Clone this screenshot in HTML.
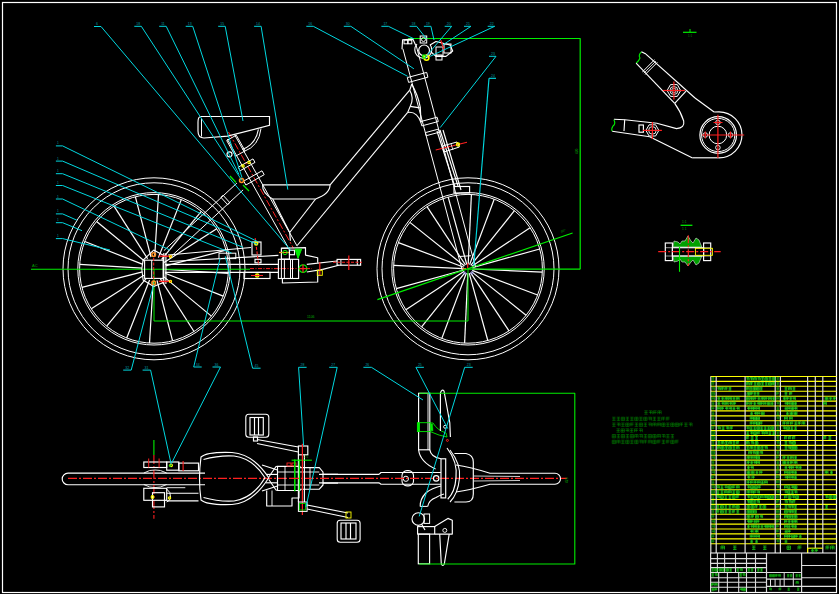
<!DOCTYPE html>
<html><head><meta charset="utf-8"><style>
html,body{margin:0;padding:0;background:#000;width:839px;height:594px;overflow:hidden}
svg{display:block;font-family:"Liberation Sans",sans-serif}
</style></head><body>
<svg width="839" height="594" viewBox="0 0 839 594">
<rect width="839" height="594" fill="#000"/>
<rect x="2.5" y="2.5" width="834.0" height="590.0" rx="0" stroke="#ffffff" stroke-width="1.2" fill="none"/>
<circle cx="154.0" cy="268.8" r="91.0" stroke="#ffffff" stroke-width="1" fill="none"/>
<circle cx="154.0" cy="268.8" r="86.0" stroke="#ffffff" stroke-width="1" fill="none"/>
<circle cx="154.0" cy="268.8" r="76.2" stroke="#ffffff" stroke-width="1" fill="none"/>
<circle cx="154.0" cy="268.8" r="74.4" stroke="#ffffff" stroke-width="1" fill="none"/>
<line x1="166.0" y1="269.5" x2="228.3" y2="273.3" stroke="#ffffff" stroke-width="1.2" />
<line x1="165.2" y1="273.2" x2="223.2" y2="296.1" stroke="#ffffff" stroke-width="1.2" />
<line x1="163.3" y1="276.4" x2="211.4" y2="316.1" stroke="#ffffff" stroke-width="1.2" />
<line x1="160.4" y1="278.9" x2="194.0" y2="331.5" stroke="#ffffff" stroke-width="1.2" />
<line x1="157.0" y1="280.4" x2="172.6" y2="340.8" stroke="#ffffff" stroke-width="1.2" />
<line x1="153.3" y1="280.8" x2="149.5" y2="343.1" stroke="#ffffff" stroke-width="1.2" />
<line x1="149.6" y1="280.0" x2="126.7" y2="338.0" stroke="#ffffff" stroke-width="1.2" />
<line x1="146.4" y1="278.1" x2="106.7" y2="326.2" stroke="#ffffff" stroke-width="1.2" />
<line x1="143.9" y1="275.2" x2="91.3" y2="308.8" stroke="#ffffff" stroke-width="1.2" />
<line x1="142.4" y1="271.8" x2="82.0" y2="287.4" stroke="#ffffff" stroke-width="1.2" />
<line x1="142.0" y1="268.1" x2="79.7" y2="264.3" stroke="#ffffff" stroke-width="1.2" />
<line x1="142.8" y1="264.4" x2="84.8" y2="241.5" stroke="#ffffff" stroke-width="1.2" />
<line x1="144.7" y1="261.2" x2="96.6" y2="221.5" stroke="#ffffff" stroke-width="1.2" />
<line x1="147.6" y1="258.7" x2="114.0" y2="206.1" stroke="#ffffff" stroke-width="1.2" />
<line x1="151.0" y1="257.2" x2="135.4" y2="196.8" stroke="#ffffff" stroke-width="1.2" />
<line x1="154.7" y1="256.8" x2="158.5" y2="194.5" stroke="#ffffff" stroke-width="1.2" />
<line x1="158.4" y1="257.6" x2="181.3" y2="199.6" stroke="#ffffff" stroke-width="1.2" />
<line x1="161.6" y1="259.5" x2="201.3" y2="211.4" stroke="#ffffff" stroke-width="1.2" />
<line x1="164.1" y1="262.4" x2="216.7" y2="228.8" stroke="#ffffff" stroke-width="1.2" />
<line x1="165.6" y1="265.8" x2="226.0" y2="250.2" stroke="#ffffff" stroke-width="1.2" />
<circle cx="468.0" cy="268.8" r="91.0" stroke="#ffffff" stroke-width="1" fill="none"/>
<circle cx="468.0" cy="268.8" r="86.0" stroke="#ffffff" stroke-width="1" fill="none"/>
<circle cx="468.0" cy="268.8" r="76.2" stroke="#ffffff" stroke-width="1" fill="none"/>
<circle cx="468.0" cy="268.8" r="74.4" stroke="#ffffff" stroke-width="1" fill="none"/>
<line x1="472.5" y1="269.0" x2="542.3" y2="272.2" stroke="#ffffff" stroke-width="1.2" />
<line x1="472.2" y1="270.4" x2="537.6" y2="295.0" stroke="#ffffff" stroke-width="1.2" />
<line x1="471.5" y1="271.6" x2="526.1" y2="315.2" stroke="#ffffff" stroke-width="1.2" />
<line x1="470.5" y1="272.6" x2="509.0" y2="330.9" stroke="#ffffff" stroke-width="1.2" />
<line x1="469.2" y1="273.1" x2="487.8" y2="340.5" stroke="#ffffff" stroke-width="1.2" />
<line x1="467.8" y1="273.3" x2="464.6" y2="343.1" stroke="#ffffff" stroke-width="1.2" />
<line x1="466.4" y1="273.0" x2="441.8" y2="338.4" stroke="#ffffff" stroke-width="1.2" />
<line x1="465.2" y1="272.3" x2="421.6" y2="326.9" stroke="#ffffff" stroke-width="1.2" />
<line x1="464.2" y1="271.3" x2="405.9" y2="309.8" stroke="#ffffff" stroke-width="1.2" />
<line x1="463.7" y1="270.0" x2="396.3" y2="288.6" stroke="#ffffff" stroke-width="1.2" />
<line x1="463.5" y1="268.6" x2="393.7" y2="265.4" stroke="#ffffff" stroke-width="1.2" />
<line x1="463.8" y1="267.2" x2="398.4" y2="242.6" stroke="#ffffff" stroke-width="1.2" />
<line x1="464.5" y1="266.0" x2="409.9" y2="222.4" stroke="#ffffff" stroke-width="1.2" />
<line x1="465.5" y1="265.0" x2="427.0" y2="206.7" stroke="#ffffff" stroke-width="1.2" />
<line x1="466.8" y1="264.5" x2="448.2" y2="197.1" stroke="#ffffff" stroke-width="1.2" />
<line x1="468.2" y1="264.3" x2="471.4" y2="194.5" stroke="#ffffff" stroke-width="1.2" />
<line x1="469.6" y1="264.6" x2="494.2" y2="199.2" stroke="#ffffff" stroke-width="1.2" />
<line x1="470.8" y1="265.3" x2="514.4" y2="210.7" stroke="#ffffff" stroke-width="1.2" />
<line x1="471.8" y1="266.3" x2="530.1" y2="227.8" stroke="#ffffff" stroke-width="1.2" />
<line x1="472.3" y1="267.6" x2="539.7" y2="249.0" stroke="#ffffff" stroke-width="1.2" />
<line x1="467.7" y1="263.0" x2="467.7" y2="268.0" stroke="#ff2020" stroke-width="1.2" />
<line x1="462.0" y1="268.8" x2="466.0" y2="268.8" stroke="#ff9020" stroke-width="1.2" />
<circle cx="464.7" cy="273.0" r="1.2" stroke="#8888ff" stroke-width="0.6" fill="none"/>
<circle cx="471.9" cy="273.0" r="1.2" stroke="#8888ff" stroke-width="0.6" fill="none"/>
<line x1="31.0" y1="269.2" x2="250.0" y2="269.2" stroke="#00ee00" stroke-width="1.1" />
<line x1="250.0" y1="268.6" x2="312.0" y2="268.6" stroke="#ff2020" stroke-width="1.0" stroke-dasharray="4,1.5,1,1.5"/>
<line x1="468.0" y1="269.2" x2="580.2" y2="269.2" stroke="#00ee00" stroke-width="1.2" />
<text x="32.0" y="266.8" fill="#00a000" font-size="4" >AC</text>
<polyline points="154.0,269.0 154.0,321.0 468.0,321.0 468.0,269.0" stroke="#00ee00" stroke-width="1" fill="none" stroke-linejoin="round"/>
<polyline points="408.0,38.5 580.2,38.5 580.2,269.2" stroke="#00ee00" stroke-width="1.2" fill="none" stroke-linejoin="round"/>
<line x1="377.4" y1="299.6" x2="572.6" y2="233.0" stroke="#00ee00" stroke-width="1.2" />
<text x="561.0" y="233.0" fill="#00a000" font-size="3.5" transform="rotate(-19 561 233)">30°</text>
<text x="578.0" y="154.0" fill="#00a000" font-size="3.2" transform="rotate(-90 578 154)">420</text>
<line x1="409.7" y1="90.2" x2="330.1" y2="184.8" stroke="#ffffff" stroke-width="1.15" />
<line x1="407.7" y1="112.4" x2="297.2" y2="245.5" stroke="#ffffff" stroke-width="1.15" />
<path d="M411.7,84.1 Q410.5,88 409.7,90.2" stroke="#ffffff" stroke-width="1.15" fill="none"/>
<path d="M409.7,90.2 Q414.5,98 410.2,106.4 L407.7,112.4" stroke="#ffffff" stroke-width="1.15" fill="none"/>
<line x1="410.2" y1="106.4" x2="419.8" y2="107.9" stroke="#ffffff" stroke-width="1.15" />
<path d="M407.7,112.4 Q417,111 421,122.5" stroke="#ffffff" stroke-width="1.15" fill="none"/>
<path d="M411.7,84.1 Q418,95 420.3,107.4 L421,122" stroke="#ffffff" stroke-width="1.15" fill="none"/>
<line x1="402.9" y1="48.8" x2="462.3" y2="270.6" stroke="#ffffff" stroke-width="1" />
<line x1="416.1" y1="45.2" x2="475.5" y2="267.0" stroke="#ffffff" stroke-width="1" />
<line x1="459.1" y1="256.5" x2="470.9" y2="255.7" stroke="#ffffff" stroke-width="1.15" />
<polygon points="407.3,77.6 408.6,82.4 427.9,77.2 426.7,72.4" stroke="#ffffff" stroke-width="1" fill="none" stroke-linejoin="round"/>
<polygon points="420.7,121.6 421.8,125.9 438.3,121.5 437.1,117.2" stroke="#ffffff" stroke-width="1" fill="none" stroke-linejoin="round"/>
<polygon points="425.4,132.6 426.2,135.7 439.4,132.2 438.5,129.1" stroke="#ffffff" stroke-width="1" fill="none" stroke-linejoin="round"/>
<line x1="437.0" y1="131.0" x2="455.0" y2="187.0" stroke="#ffffff" stroke-width="1.15" />
<line x1="440.0" y1="130.0" x2="458.0" y2="186.0" stroke="#ffffff" stroke-width="1.15" />
<line x1="443.0" y1="130.0" x2="461.0" y2="190.0" stroke="#ffffff" stroke-width="1.15" />
<rect x="454.0" y="186.5" width="15.6" height="6.5" rx="0" stroke="#ffffff" stroke-width="1.15" fill="none"/>
<line x1="435.7" y1="150.0" x2="467.0" y2="142.2" stroke="#ff2020" stroke-width="1.1" />
<polygon points="442.3,146.0 457.0,142.0 459.4,147.0 444.0,152.0" stroke="#ffffff" stroke-width="1" fill="none" stroke-linejoin="round"/>
<line x1="447.0" y1="145.0" x2="449.0" y2="151.0" stroke="#ffffff" stroke-width="0.8" />
<line x1="451.0" y1="144.0" x2="453.0" y2="150.0" stroke="#ffffff" stroke-width="0.8" />
<circle cx="458.0" cy="144.5" r="1.5" stroke="#ffff00" stroke-width="1.3" fill="none"/>
<polyline points="402.0,49.2 402.6,39.7 412.8,39.1 415.8,45.6" stroke="#ffffff" stroke-width="1.15" fill="none" stroke-linejoin="round"/>
<rect x="404.0" y="40.2" width="3.6" height="3.6" rx="0" stroke="#ffffff" stroke-width="1" fill="none"/>
<rect x="408.2" y="40.2" width="3.6" height="3.6" rx="0" stroke="#ffffff" stroke-width="1" fill="none"/>
<circle cx="424.1" cy="50.4" r="5.4" stroke="#ffffff" stroke-width="1.2" fill="none"/>
<path d="M417,44 A8.5,8.5 0 1 0 430,44.5" stroke="#ffffff" stroke-width="1.1" fill="none"/>
<rect x="420.2" y="36.0" width="6.5" height="7.0" rx="0" stroke="#ffffff" stroke-width="1" fill="none"/>
<circle cx="423.5" cy="39.5" r="2.0" stroke="#ffffff" stroke-width="0.9" fill="none"/>
<polyline points="430.0,45.0 436.0,41.5 450.0,45.0 452.7,51.0 446.0,56.4 436.0,56.4 431.0,52.0" stroke="#ffffff" stroke-width="1.15" fill="none" stroke-linejoin="round"/>
<rect x="436.0" y="47.0" width="7.0" height="9.0" rx="0" stroke="#ffffff" stroke-width="1" fill="none"/>
<rect x="444.0" y="44.0" width="7.0" height="9.0" rx="0" stroke="#ffffff" stroke-width="1" fill="none"/>
<line x1="440.8" y1="40.3" x2="444.4" y2="51.0" stroke="#ff2020" stroke-width="1.2" />
<rect x="436.0" y="55.0" width="6.0" height="5.0" rx="0" stroke="#ffffff" stroke-width="1" fill="none"/>
<circle cx="426.5" cy="57.8" r="2.4" stroke="#ffff00" stroke-width="1.6" fill="none"/>
<circle cx="424.0" cy="56.5" r="1.6" stroke="#00ee00" stroke-width="1.2" fill="none"/>
<line x1="228.5" y1="132.0" x2="293.5" y2="248.3" stroke="#ff2020" stroke-width="1.0" stroke-dasharray="7,2,2,2"/>
<line x1="227.3" y1="139.1" x2="289.8" y2="250.4" stroke="#ffffff" stroke-width="1" />
<line x1="234.7" y1="134.9" x2="297.2" y2="246.2" stroke="#ffffff" stroke-width="1" />
<polygon points="226.7,140.5 235.5,156.2 245.1,150.9 236.3,135.2" stroke="#ffffff" stroke-width="1" fill="none" stroke-linejoin="round"/>
<circle cx="229.5" cy="154.3" r="2.5" stroke="#ffffff" stroke-width="1.15" fill="none"/>
<polygon points="238.2,167.2 240.2,170.7 255.0,162.4 253.0,158.9" stroke="#ffffff" stroke-width="1" fill="none" stroke-linejoin="round"/>
<polygon points="243.7,181.1 245.9,185.0 264.2,174.7 262.0,170.8" stroke="#ffffff" stroke-width="1" fill="none" stroke-linejoin="round"/>
<circle cx="241.6" cy="180.5" r="2.0" stroke="#ff9020" stroke-width="1.6" fill="none"/>
<circle cx="243.0" cy="166.0" r="1.2" stroke="#ffff00" stroke-width="1.2" fill="none"/>
<circle cx="249.0" cy="162.5" r="1.2" stroke="#ffff00" stroke-width="1.2" fill="none"/>
<line x1="230.0" y1="176.0" x2="236.0" y2="182.5" stroke="#00ee00" stroke-width="1.3" />
<line x1="243.0" y1="185.0" x2="249.0" y2="191.0" stroke="#00ee00" stroke-width="1.3" />
<path d="M201,116.5 L269.5,116.5 L269.5,125.4 L227.5,136.1 L204,138 Q198,138 198,131 L198,122 Q198,116.5 201,116.5" stroke="#ffffff" stroke-width="1.15" fill="none"/>
<line x1="201.5" y1="118.5" x2="201.5" y2="136.5" stroke="#ffffff" stroke-width="1" />
<path d="M258.4,129.4 Q256,144 242.3,149.5" stroke="#ffffff" stroke-width="1.1" fill="none"/>
<path d="M261,128.5 Q259,146 244,151.5" stroke="#ffffff" stroke-width="1.0" fill="none"/>
<line x1="236.9" y1="183.1" x2="163.9" y2="250.6" stroke="#ffffff" stroke-width="1" />
<line x1="243.1" y1="189.9" x2="170.1" y2="257.4" stroke="#ffffff" stroke-width="1" />
<polygon points="223.1,195.3 220.9,197.3 227.7,204.7 229.9,202.7" stroke="#ffffff" stroke-width="1" fill="none" stroke-linejoin="round"/>
<line x1="168.0" y1="255.0" x2="251.0" y2="247.5" stroke="#ffffff" stroke-width="1.15" />
<line x1="169.3" y1="261.5" x2="278.4" y2="255.4" stroke="#ffffff" stroke-width="1.15" />
<rect x="219.0" y="253.2" width="16.8" height="5.4" rx="0" stroke="#ffffff" stroke-width="1" fill="none"/>
<line x1="165.0" y1="264.3" x2="278.4" y2="264.3" stroke="#ffffff" stroke-width="1.15" />
<line x1="165.0" y1="272.4" x2="278.4" y2="272.4" stroke="#ffffff" stroke-width="1.15" />
<rect x="252.0" y="242.0" width="9.0" height="13.0" rx="0" stroke="#ffffff" stroke-width="1.15" fill="none"/>
<rect x="255.0" y="259.3" width="6.0" height="3.5" rx="0" stroke="#ffffff" stroke-width="1.15" fill="none"/>
<line x1="255.2" y1="238.0" x2="258.7" y2="265.4" stroke="#ff2020" stroke-width="1.1" stroke-dasharray="3,1.5"/>
<circle cx="256.2" cy="243.5" r="1.5" stroke="#ffff00" stroke-width="1.5" fill="none"/>
<rect x="244.0" y="272.4" width="26.0" height="6.1" rx="0" stroke="#ffffff" stroke-width="1.15" fill="none"/>
<circle cx="257.2" cy="275.5" r="1.6" stroke="#ffff00" stroke-width="1.5" fill="none"/>
<line x1="251.0" y1="275.5" x2="263.0" y2="275.5" stroke="#ff2020" stroke-width="1" />
<line x1="262.6" y1="184.8" x2="330.1" y2="184.8" stroke="#ffffff" stroke-width="1.15" />
<path d="M262.6,184.85 Q262,193 272.7,199" stroke="#ffffff" stroke-width="1.15" fill="none"/>
<path d="M330.1,184.85 Q330,194 315.6,199" stroke="#ffffff" stroke-width="1.15" fill="none"/>
<line x1="272.7" y1="199.0" x2="315.6" y2="199.0" stroke="#ffffff" stroke-width="1.15" />
<line x1="272.7" y1="199.0" x2="289.7" y2="232.5" stroke="#ffffff" stroke-width="1.15" />
<line x1="315.6" y1="199.0" x2="289.7" y2="232.5" stroke="#ffffff" stroke-width="1.15" />
<line x1="289.7" y1="232.5" x2="290.4" y2="240.7" stroke="#ffffff" stroke-width="1.15" />
<polyline points="281.4,248.2 305.5,247.6 305.5,255.1 317.7,257.7 317.7,262.7" stroke="#ffffff" stroke-width="1.15" fill="none" stroke-linejoin="round"/>
<rect x="278.4" y="259.3" width="20.2" height="19.2" rx="0" stroke="#ffffff" stroke-width="1.15" fill="none"/>
<line x1="281.4" y1="259.3" x2="281.4" y2="278.5" stroke="#ffffff" stroke-width="1" />
<line x1="284.4" y1="259.3" x2="284.4" y2="278.5" stroke="#ffffff" stroke-width="1" />
<line x1="290.5" y1="259.3" x2="290.5" y2="278.5" stroke="#ffffff" stroke-width="1" />
<line x1="292.5" y1="259.3" x2="292.5" y2="278.5" stroke="#ffffff" stroke-width="1" />
<polyline points="282.4,278.5 282.4,283.0 317.7,282.0 317.7,270.3" stroke="#ffffff" stroke-width="1.15" fill="none" stroke-linejoin="round"/>
<rect x="281.4" y="248.2" width="8.0" height="11.0" rx="0" stroke="#ffffff" stroke-width="1.15" fill="none"/>
<rect x="289.5" y="250.2" width="5.0" height="4.5" rx="0" stroke="#ffffff" stroke-width="1.15" fill="none"/>
<path d="M295,249.2 L301.6,249.2 L298,258.3 Z" stroke="#00ee00" stroke-width="1" fill="#00ee00"/>
<line x1="279.0" y1="252.5" x2="289.0" y2="252.5" stroke="#ff9020" stroke-width="1.2" />
<circle cx="285.0" cy="252.5" r="2.2" stroke="#00ee00" stroke-width="1" fill="none"/>
<circle cx="303.0" cy="268.6" r="3.8" stroke="#00ee00" stroke-width="1.3" fill="none"/>
<line x1="299.0" y1="268.6" x2="307.0" y2="268.6" stroke="#ff2020" stroke-width="1.2" />
<line x1="303.0" y1="264.6" x2="303.0" y2="272.6" stroke="#ff2020" stroke-width="1.2" />
<line x1="306.8" y1="264.4" x2="337.1" y2="261.0" stroke="#ffffff" stroke-width="1.15" />
<line x1="306.8" y1="272.0" x2="322.8" y2="269.4" stroke="#ffffff" stroke-width="1.15" />
<line x1="322.8" y1="269.4" x2="338.7" y2="265.2" stroke="#ffffff" stroke-width="1.15" />
<rect x="337.1" y="259.4" width="23.5" height="5.8" rx="0" stroke="#ffffff" stroke-width="1.15" fill="none"/>
<line x1="340.9" y1="259.4" x2="340.9" y2="265.2" stroke="#ffffff" stroke-width="1" />
<line x1="357.3" y1="259.4" x2="357.3" y2="265.2" stroke="#ffffff" stroke-width="1" />
<line x1="333.0" y1="262.3" x2="362.0" y2="262.3" stroke="#ff2020" stroke-width="1.1" stroke-dasharray="3,1.5"/>
<line x1="348.8" y1="255.6" x2="348.8" y2="269.9" stroke="#ff2020" stroke-width="1.2" />
<line x1="319.8" y1="262.3" x2="319.8" y2="275.3" stroke="#ff2020" stroke-width="1.2" />
<rect x="317.3" y="270.3" width="5.0" height="5.0" rx="0" stroke="#ffff00" stroke-width="0.9" fill="none"/>
<polygon points="153.7,250.1 163.3,255.2 163.3,282.4 153.7,286.5 143.1,280.0 141.8,269.0 143.1,260.2" stroke="#ffffff" stroke-width="1.1" fill="none" stroke-linejoin="round"/>
<rect x="144.6" y="260.2" width="18.7" height="18.2" rx="0" stroke="#ffffff" stroke-width="1.1" fill="none"/>
<line x1="151.7" y1="260.2" x2="151.7" y2="278.4" stroke="#ffffff" stroke-width="1" />
<line x1="163.8" y1="253.0" x2="163.8" y2="284.0" stroke="#ffffff" stroke-width="1.15" />
<line x1="165.9" y1="253.0" x2="165.9" y2="284.0" stroke="#ffffff" stroke-width="1.15" />
<line x1="158.8" y1="256.2" x2="171.9" y2="256.2" stroke="#ff2020" stroke-width="1.4" />
<line x1="158.8" y1="281.4" x2="171.9" y2="281.4" stroke="#ff2020" stroke-width="1.4" />
<circle cx="170.5" cy="256.6" r="1.1" stroke="#ffff00" stroke-width="1.1" fill="none"/>
<circle cx="170.5" cy="281.4" r="1.1" stroke="#ffff00" stroke-width="1.1" fill="none"/>
<circle cx="153.7" cy="254.6" r="1.8" stroke="#ff9020" stroke-width="1.5" fill="none"/>
<circle cx="153.7" cy="282.9" r="1.8" stroke="#ff9020" stroke-width="1.5" fill="none"/>
<line x1="153.7" y1="258.0" x2="153.7" y2="280.0" stroke="#ff2020" stroke-width="1.0" stroke-dasharray="3,1.5"/>
<line x1="94.0" y1="26.5" x2="101.0" y2="26.5" stroke="#00d8e0" stroke-width="1" />
<line x1="101.0" y1="26.5" x2="291.0" y2="250.7" stroke="#00d8e0" stroke-width="1" />
<text x="96.0" y="25.0" fill="#009aa0" font-size="3.5" >6</text>
<line x1="134.3" y1="26.3" x2="141.3" y2="26.3" stroke="#00d8e0" stroke-width="1" />
<line x1="141.3" y1="26.3" x2="242.0" y2="180.6" stroke="#00d8e0" stroke-width="1" />
<text x="136.3" y="24.8" fill="#009aa0" font-size="3.5" >18</text>
<line x1="159.2" y1="26.3" x2="166.2" y2="26.3" stroke="#00d8e0" stroke-width="1" />
<line x1="166.2" y1="26.3" x2="239.0" y2="174.5" stroke="#00d8e0" stroke-width="1" />
<text x="161.2" y="24.8" fill="#009aa0" font-size="3.5" >11</text>
<line x1="185.7" y1="26.3" x2="192.7" y2="26.3" stroke="#00d8e0" stroke-width="1" />
<line x1="192.7" y1="26.3" x2="242.0" y2="177.6" stroke="#00d8e0" stroke-width="1" />
<text x="187.7" y="24.8" fill="#009aa0" font-size="3.5" >13</text>
<line x1="218.2" y1="26.3" x2="225.2" y2="26.3" stroke="#00d8e0" stroke-width="1" />
<line x1="225.2" y1="26.3" x2="243.0" y2="121.0" stroke="#00d8e0" stroke-width="1" />
<text x="220.2" y="24.8" fill="#009aa0" font-size="3.5" >15</text>
<line x1="254.1" y1="26.3" x2="261.1" y2="26.3" stroke="#00d8e0" stroke-width="1" />
<line x1="261.1" y1="26.3" x2="287.8" y2="189.6" stroke="#00d8e0" stroke-width="1" />
<text x="256.1" y="24.8" fill="#009aa0" font-size="3.5" >14</text>
<line x1="306.3" y1="26.3" x2="313.3" y2="26.3" stroke="#00d8e0" stroke-width="1" />
<line x1="313.3" y1="26.3" x2="407.6" y2="76.3" stroke="#00d8e0" stroke-width="1" />
<text x="308.3" y="24.8" fill="#009aa0" font-size="3.5" >16</text>
<line x1="343.8" y1="26.3" x2="350.8" y2="26.3" stroke="#00d8e0" stroke-width="1" />
<line x1="350.8" y1="26.3" x2="413.9" y2="68.8" stroke="#00d8e0" stroke-width="1" />
<text x="345.8" y="24.8" fill="#009aa0" font-size="3.5" >30</text>
<line x1="381.4" y1="26.3" x2="388.4" y2="26.3" stroke="#00d8e0" stroke-width="1" />
<line x1="388.4" y1="26.3" x2="413.9" y2="38.8" stroke="#00d8e0" stroke-width="1" />
<text x="383.4" y="24.8" fill="#009aa0" font-size="3.5" >17</text>
<line x1="409.6" y1="26.3" x2="416.6" y2="26.3" stroke="#00d8e0" stroke-width="1" />
<line x1="416.6" y1="26.3" x2="426.4" y2="38.8" stroke="#00d8e0" stroke-width="1" />
<text x="411.6" y="24.8" fill="#009aa0" font-size="3.5" >18</text>
<line x1="423.9" y1="26.3" x2="430.9" y2="26.3" stroke="#00d8e0" stroke-width="1" />
<line x1="430.9" y1="26.3" x2="434.0" y2="40.0" stroke="#00d8e0" stroke-width="1" />
<text x="425.9" y="24.8" fill="#009aa0" font-size="3.5" >19</text>
<line x1="444.7" y1="26.3" x2="451.7" y2="26.3" stroke="#00d8e0" stroke-width="1" />
<line x1="451.7" y1="26.3" x2="425.2" y2="57.5" stroke="#00d8e0" stroke-width="1" />
<text x="446.7" y="24.8" fill="#009aa0" font-size="3.5" >20</text>
<line x1="464.0" y1="26.3" x2="471.0" y2="26.3" stroke="#00d8e0" stroke-width="1" />
<line x1="471.0" y1="26.3" x2="442.7" y2="45.0" stroke="#00d8e0" stroke-width="1" />
<text x="466.0" y="24.8" fill="#009aa0" font-size="3.5" >21</text>
<line x1="487.7" y1="26.3" x2="494.7" y2="26.3" stroke="#00d8e0" stroke-width="1" />
<line x1="494.7" y1="26.3" x2="430.2" y2="56.3" stroke="#00d8e0" stroke-width="1" />
<text x="489.7" y="24.8" fill="#009aa0" font-size="3.5" >22</text>
<line x1="489.0" y1="56.3" x2="496.0" y2="56.3" stroke="#00d8e0" stroke-width="1" />
<line x1="496.0" y1="56.3" x2="440.2" y2="127.6" stroke="#00d8e0" stroke-width="1" />
<text x="491.0" y="54.8" fill="#009aa0" font-size="3.5" >23</text>
<line x1="489.0" y1="78.3" x2="496.0" y2="78.3" stroke="#00d8e0" stroke-width="1.15" />
<line x1="489.0" y1="78.3" x2="473.8" y2="265.5" stroke="#00d8e0" stroke-width="1.15" />
<text x="491.0" y="76.8" fill="#009aa0" font-size="3.5" >24</text>
<line x1="683.0" y1="32.3" x2="696.5" y2="32.3" stroke="#00ee00" stroke-width="1.2" />
<line x1="690.0" y1="29.0" x2="690.0" y2="32.0" stroke="#00ee00" stroke-width="1" />
<text x="688.0" y="37.0" fill="#008800" font-size="3" >1:1</text>
<path d="M641.4,51.8 Q638,55 640,58 Q639,61 636.1,63.2" stroke="#00ee00" stroke-width="1.1" fill="none"/>
<line x1="641.4" y1="51.8" x2="645.9" y2="54.1" stroke="#ffffff" stroke-width="1.15" />
<line x1="645.9" y1="54.1" x2="695.0" y2="98.0" stroke="#ffffff" stroke-width="1.15" />
<line x1="636.1" y1="63.2" x2="674.7" y2="103.3" stroke="#ffffff" stroke-width="1.15" />
<line x1="657.3" y1="62.4" x2="645.2" y2="74.5" stroke="#ffffff" stroke-width="1" />
<line x1="655.9" y1="61.1" x2="643.8" y2="73.2" stroke="#ffffff" stroke-width="0.8" />
<line x1="654.5" y1="59.8" x2="642.4" y2="71.9" stroke="#ffffff" stroke-width="1" />
<polygon points="680.7,90.5 677.3,96.4 670.5,96.4 667.1,90.5 670.5,84.6 677.3,84.6" stroke="#ffffff" stroke-width="1" fill="none" stroke-linejoin="round"/>
<circle cx="673.9" cy="90.5" r="4.0" stroke="#ffffff" stroke-width="0.9" fill="none"/>
<circle cx="673.9" cy="90.5" r="2.3" stroke="#ffffff" stroke-width="0.8" fill="none"/>
<line x1="662.9" y1="90.5" x2="684.9" y2="90.5" stroke="#ff2020" stroke-width="1.2" />
<line x1="673.9" y1="81.5" x2="673.9" y2="99.5" stroke="#ff2020" stroke-width="1.2" />
<line x1="674.7" y1="103.3" x2="686.0" y2="91.2" stroke="#ffffff" stroke-width="1.15" />
<path d="M674.7,103.3 Q681,112 683.7,121 Q685,128 676.5,128.6 L656.9,123.2 L624.7,119.7 L613.9,119.3" stroke="#ffffff" stroke-width="1.15" fill="none"/>
<path d="M613.9,119.7 Q616,124 613,126 Q611,129 612.2,131.3" stroke="#00ee00" stroke-width="1.1" fill="none"/>
<line x1="612.2" y1="131.3" x2="649.7" y2="136.7" stroke="#ffffff" stroke-width="1.15" />
<line x1="649.7" y1="136.7" x2="692.6" y2="158.1" stroke="#ffffff" stroke-width="1.15" />
<line x1="692.6" y1="157.8" x2="719.0" y2="157.8" stroke="#ffffff" stroke-width="1.15" />
<path d="M714.1,112 L719,111.8 A23,23 0 0 1 719,157.8" stroke="#ffffff" stroke-width="1.15" fill="none"/>
<line x1="714.1" y1="112.0" x2="695.0" y2="98.0" stroke="#ffffff" stroke-width="1.15" />
<line x1="624.7" y1="119.7" x2="624.0" y2="131.0" stroke="#ffffff" stroke-width="1.15" />
<rect x="639.0" y="125.0" width="4.4" height="7.2" rx="0" stroke="#ffffff" stroke-width="1.15" fill="none"/>
<polygon points="658.9,130.4 655.6,136.0 649.1,136.0 645.9,130.4 649.1,124.8 655.6,124.8" stroke="#ffffff" stroke-width="1" fill="none" stroke-linejoin="round"/>
<circle cx="652.4" cy="130.4" r="3.8" stroke="#ffffff" stroke-width="0.9" fill="none"/>
<line x1="642.9" y1="130.4" x2="661.9" y2="130.4" stroke="#ff2020" stroke-width="1.2" />
<line x1="652.4" y1="121.9" x2="652.4" y2="138.9" stroke="#ff2020" stroke-width="1.2" />
<circle cx="718.2" cy="135.0" r="18.3" stroke="#ffffff" stroke-width="1.2" fill="none"/>
<circle cx="718.2" cy="135.0" r="16.6" stroke="#ffffff" stroke-width="1.0" fill="none"/>
<circle cx="717.9" cy="135.0" r="8.8" stroke="#ffffff" stroke-width="1" fill="none"/>
<circle cx="717.9" cy="122.5" r="2.3" stroke="#ffffff" stroke-width="0.9" fill="none"/>
<circle cx="705.3" cy="135.0" r="2.3" stroke="#ffffff" stroke-width="0.9" fill="none"/>
<circle cx="730.5" cy="135.0" r="2.3" stroke="#ffffff" stroke-width="0.9" fill="none"/>
<circle cx="717.9" cy="147.6" r="2.3" stroke="#ffffff" stroke-width="0.9" fill="none"/>
<line x1="713.5" y1="122.5" x2="722.5" y2="122.5" stroke="#ff2020" stroke-width="1.1" />
<line x1="705.3" y1="131.5" x2="705.3" y2="138.5" stroke="#ff2020" stroke-width="1.1" />
<line x1="730.5" y1="131.5" x2="730.5" y2="138.5" stroke="#ff2020" stroke-width="1.1" />
<line x1="702.0" y1="135.0" x2="744.2" y2="135.0" stroke="#ff2020" stroke-width="1.2" />
<line x1="717.9" y1="114.8" x2="717.9" y2="158.0" stroke="#ff2020" stroke-width="1.2" />
<line x1="680.6" y1="225.3" x2="692.4" y2="225.3" stroke="#00ee00" stroke-width="1.3" />
<text x="682.0" y="223.0" fill="#00aa00" font-size="3.2" >1:1</text>
<text x="682.0" y="230.0" fill="#00aa00" font-size="3.2" >1 1</text>
<path d="M673,247 L674,241 L678,242 L680,244 L682,241 L685,241 L688,236 L691,241 L693,243 L696,238 L699,240 L701.8,247 Z" stroke="#dddddd" stroke-width="0.6" fill="#00a000"/>
<path d="M673,256 L674,262 L678,261 L680,259 L682,262 L685,262 L688,266 L691,262 L693,260 L696,265 L699,263 L701.8,256 Z" stroke="#dddddd" stroke-width="0.6" fill="#00a000"/>
<rect x="665.3" y="243.0" width="7.1" height="17.6" rx="0" stroke="#ffffff" stroke-width="1.15" fill="none"/>
<rect x="703.6" y="243.0" width="7.1" height="17.6" rx="0" stroke="#ffffff" stroke-width="1.15" fill="none"/>
<line x1="665.3" y1="247.7" x2="672.4" y2="247.7" stroke="#ffffff" stroke-width="0.6" />
<line x1="665.3" y1="256.0" x2="672.4" y2="256.0" stroke="#ffffff" stroke-width="0.6" />
<line x1="703.6" y1="247.7" x2="710.7" y2="247.7" stroke="#ffffff" stroke-width="0.6" />
<line x1="703.6" y1="256.0" x2="710.7" y2="256.0" stroke="#ffffff" stroke-width="0.6" />
<rect x="672.4" y="247.7" width="31.2" height="8.3" rx="0" stroke="#ffffff" stroke-width="1.15" fill="none"/>
<rect x="695.4" y="248.3" width="17.0" height="7.0" rx="0" stroke="#ffff00" stroke-width="0.9" fill="none"/>
<line x1="658.2" y1="251.6" x2="720.7" y2="251.6" stroke="#ff2020" stroke-width="1.1" stroke-dasharray="8,2,2,2"/>
<line x1="688.3" y1="235.3" x2="688.3" y2="266.0" stroke="#ff2020" stroke-width="1.1" stroke-dasharray="8,2,2,2"/>
<line x1="679.5" y1="247.0" x2="679.5" y2="271.8" stroke="#00ee00" stroke-width="1.1" />
<path d="M205,473.1 L68,473.1 A5.8,5.8 0 0 0 68,484.7 L205,484.7" stroke="#ffffff" stroke-width="1.15" fill="none"/>
<line x1="68.0" y1="478.4" x2="290.0" y2="478.4" stroke="#ff2020" stroke-width="1.2" stroke-dasharray="9,2,2,2"/>
<line x1="153.9" y1="440.0" x2="153.9" y2="455.0" stroke="#00ee00" stroke-width="1.1" />
<line x1="153.9" y1="455.0" x2="153.9" y2="518.7" stroke="#ff2020" stroke-width="1.1" stroke-dasharray="9,2,2,2"/>
<rect x="143.8" y="462.0" width="22.9" height="5.5" rx="0" stroke="#ffffff" stroke-width="1.15" fill="none"/>
<line x1="148.7" y1="458.5" x2="148.7" y2="467.5" stroke="#ff2020" stroke-width="1" />
<line x1="159.1" y1="458.5" x2="159.1" y2="467.5" stroke="#ff2020" stroke-width="1" />
<rect x="166.7" y="462.0" width="12.1" height="8.2" rx="0" stroke="#ffffff" stroke-width="1.15" fill="none"/>
<circle cx="171.1" cy="465.3" r="1.3" stroke="#ffff00" stroke-width="1.2" fill="none"/>
<circle cx="170.0" cy="465.8" r="0.9" stroke="#00ee00" stroke-width="0.8" fill="none"/>
<rect x="178.8" y="463.1" width="19.7" height="7.7" rx="0" stroke="#ffffff" stroke-width="1.15" fill="none"/>
<line x1="183.1" y1="461.0" x2="183.1" y2="471.0" stroke="#ff2020" stroke-width="1.1" />
<path d="M143.8,473 Q150,469.5 155,470 Q160,469.5 166.7,473" stroke="#ffffff" stroke-width="0.9" fill="none"/>
<path d="M143.8,484.5 Q150,488 155,487.6 Q160,488 166.7,484.5" stroke="#ffffff" stroke-width="0.9" fill="none"/>
<rect x="143.8" y="488.3" width="22.9" height="12.0" rx="0" stroke="#ffffff" stroke-width="1.15" fill="none"/>
<rect x="152.5" y="492.7" width="12.0" height="14.2" rx="0" stroke="#ffffff" stroke-width="1.15" fill="none"/>
<path d="M166.7,489 Q171,492 170.5,497 Q170,501 166.7,502" stroke="#ffffff" stroke-width="1" fill="none"/>
<line x1="166.7" y1="487.7" x2="185.3" y2="487.7" stroke="#ffffff" stroke-width="0.9" />
<line x1="166.7" y1="493.2" x2="198.5" y2="493.2" stroke="#ffffff" stroke-width="1.15" />
<line x1="166.7" y1="500.9" x2="198.5" y2="500.9" stroke="#ffffff" stroke-width="1.15" />
<circle cx="152.5" cy="497.0" r="1.3" stroke="#ffff00" stroke-width="1.2" fill="none"/>
<circle cx="169.5" cy="498.1" r="1.2" stroke="#ffff00" stroke-width="1.1" fill="none"/>
<path d="M201,457 C205,453.5 218,452 232,452.5 C249,453.5 261,466 268.8,477.7 C261,490 249,503.5 232,504.5 C218,505 205,503.5 201,500 Q198,478.5 201,457 Z" stroke="#ffffff" stroke-width="1.15" fill="none"/>
<path d="M203.5,459.5 C214,456.5 226,455.5 234,456 C250,458 259,468 265,477.7 C259,488 250,498.5 234,501 C226,501.5 214,500.5 203.5,497.5" stroke="#ffffff" stroke-width="1.1" fill="none"/>
<polyline points="268.8,477.0 276.0,466.5 277.5,466.3" stroke="#ffffff" stroke-width="1.15" fill="none" stroke-linejoin="round"/>
<polyline points="268.8,479.5 276.0,490.0 277.5,490.5" stroke="#ffffff" stroke-width="1.15" fill="none" stroke-linejoin="round"/>
<line x1="262.0" y1="465.0" x2="277.5" y2="470.0" stroke="#ffffff" stroke-width="1.15" />
<line x1="262.0" y1="491.0" x2="277.5" y2="486.0" stroke="#ffffff" stroke-width="1.15" />
<line x1="266.0" y1="474.4" x2="277.5" y2="474.4" stroke="#ffffff" stroke-width="1.15" />
<line x1="266.0" y1="482.8" x2="277.5" y2="482.8" stroke="#ffffff" stroke-width="1.15" />
<rect x="245.8" y="414.2" width="23.0" height="23.0" rx="3" stroke="#ffffff" stroke-width="1.1" fill="none"/>
<rect x="250.0" y="417.5" width="13.3" height="17.5" rx="0" stroke="#ffffff" stroke-width="1.15" fill="none"/>
<line x1="254.5" y1="417.5" x2="254.5" y2="435.0" stroke="#ffffff" stroke-width="1.15" />
<line x1="258.5" y1="417.5" x2="258.5" y2="435.0" stroke="#ffffff" stroke-width="1.15" />
<rect x="253.5" y="437.0" width="4.0" height="4.0" rx="0" stroke="#ffffff" stroke-width="1.15" fill="none"/>
<line x1="257.0" y1="439.5" x2="298.4" y2="447.0" stroke="#ffffff" stroke-width="1.15" />
<line x1="257.0" y1="443.5" x2="298.4" y2="452.0" stroke="#ffffff" stroke-width="1.15" />
<rect x="298.4" y="446.0" width="9.4" height="8.8" rx="0" stroke="#ffffff" stroke-width="1.15" fill="none"/>
<polygon points="277.5,466.3 300.0,466.3 300.0,467.6 319.3,467.6 323.0,472.0 323.0,485.0 319.3,489.2 300.0,489.2 300.0,490.5 277.5,490.5" stroke="#ffffff" stroke-width="1.15" fill="none" stroke-linejoin="round"/>
<line x1="277.5" y1="472.0" x2="319.3" y2="472.0" stroke="#ffffff" stroke-width="0.9" />
<line x1="277.5" y1="485.0" x2="319.3" y2="485.0" stroke="#ffffff" stroke-width="0.9" />
<line x1="285.0" y1="466.3" x2="285.0" y2="490.5" stroke="#ffffff" stroke-width="0.9" />
<line x1="310.0" y1="467.6" x2="310.0" y2="489.2" stroke="#ffffff" stroke-width="0.9" />
<rect x="287.0" y="463.0" width="4.0" height="3.0" rx="0" stroke="#ff2020" stroke-width="0.9" fill="none"/>
<rect x="292.0" y="463.0" width="4.0" height="3.0" rx="0" stroke="#ff2020" stroke-width="0.9" fill="none"/>
<line x1="298.4" y1="454.8" x2="298.4" y2="502.0" stroke="#ffffff" stroke-width="1.15" />
<line x1="304.4" y1="454.8" x2="304.4" y2="502.0" stroke="#ffffff" stroke-width="1.15" />
<line x1="294.8" y1="459.5" x2="294.8" y2="491.2" stroke="#00ee00" stroke-width="1.5" />
<line x1="299.4" y1="459.5" x2="299.4" y2="491.2" stroke="#00ee00" stroke-width="1.3" />
<line x1="291.6" y1="460.2" x2="311.9" y2="460.2" stroke="#00ee00" stroke-width="1.1" />
<text x="304.0" y="458.0" fill="#00aa00" font-size="3" >1:1</text>
<line x1="302.4" y1="443.8" x2="302.4" y2="514.9" stroke="#ff2020" stroke-width="1.2" />
<rect x="298.4" y="502.0" width="8.7" height="9.4" rx="0" stroke="#ffffff" stroke-width="1" fill="none"/>
<rect x="299.5" y="503.5" width="6.0" height="6.5" rx="0" stroke="#00ee00" stroke-width="0.8" fill="none"/>
<polyline points="299.0,490.5 299.0,498.0 292.0,498.0 292.0,506.0 266.7,506.0 266.7,490.5" stroke="#ffffff" stroke-width="1.15" fill="none" stroke-linejoin="round"/>
<line x1="272.0" y1="490.5" x2="272.0" y2="506.0" stroke="#ffffff" stroke-width="0.9" />
<line x1="323.0" y1="474.3" x2="338.0" y2="474.3" stroke="#ffffff" stroke-width="1.15" />
<line x1="323.0" y1="483.1" x2="338.0" y2="483.1" stroke="#ffffff" stroke-width="1.15" />
<line x1="307.0" y1="505.0" x2="348.0" y2="513.0" stroke="#ffffff" stroke-width="1.15" />
<line x1="307.0" y1="509.0" x2="348.0" y2="517.5" stroke="#ffffff" stroke-width="1.15" />
<rect x="346.0" y="512.0" width="5.0" height="6.0" rx="0" stroke="#ffff00" stroke-width="0.9" fill="none"/>
<rect x="337.2" y="520.2" width="22.9" height="22.1" rx="3" stroke="#ffffff" stroke-width="1.1" fill="none"/>
<rect x="341.0" y="523.0" width="15.0" height="16.0" rx="0" stroke="#ffffff" stroke-width="1.15" fill="none"/>
<line x1="346.0" y1="523.0" x2="346.0" y2="539.0" stroke="#ffffff" stroke-width="1.15" />
<line x1="350.5" y1="523.0" x2="350.5" y2="539.0" stroke="#ffffff" stroke-width="1.15" />
<line x1="319.0" y1="474.4" x2="379.0" y2="474.4" stroke="#ffffff" stroke-width="1.15" />
<line x1="319.0" y1="482.8" x2="379.0" y2="482.8" stroke="#ffffff" stroke-width="1.15" />
<polyline points="379.0,474.4 381.0,472.5 441.0,472.5" stroke="#ffffff" stroke-width="1.15" fill="none" stroke-linejoin="round"/>
<polyline points="379.0,482.8 381.0,484.2 441.0,484.2" stroke="#ffffff" stroke-width="1.15" fill="none" stroke-linejoin="round"/>
<rect x="402.0" y="470.6" width="11.5" height="15.3" rx="5" stroke="#ffffff" stroke-width="1.1" fill="none"/>
<circle cx="405.9" cy="478.8" r="2.6" stroke="#ffffff" stroke-width="1" fill="none"/>
<line x1="290.0" y1="478.4" x2="566.8" y2="478.4" stroke="#ff2020" stroke-width="1.2" stroke-dasharray="9,2,2,2"/>
<path d="M456,465 Q470,467 490,473.2 L555,473.2 A5.5,5.5 0 0 1 555,484.2 L490,484.2 Q470,490 456,492" stroke="#ffffff" stroke-width="1.15" fill="none"/>
<line x1="474.0" y1="476.0" x2="520.0" y2="476.5" stroke="#ffffff" stroke-width="0.8" />
<line x1="474.0" y1="481.0" x2="520.0" y2="480.5" stroke="#ffffff" stroke-width="0.8" />
<rect x="418.6" y="393.3" width="11.2" height="56.5" rx="0" stroke="#ffffff" stroke-width="1.15" fill="none"/>
<line x1="428.0" y1="393.3" x2="428.0" y2="449.8" stroke="#ffffff" stroke-width="0.9" />
<path d="M418.6,449.8 Q420,462 435.6,469" stroke="#ffffff" stroke-width="1.15" fill="none"/>
<path d="M429.8,449.8 Q431,457 441,458.8" stroke="#ffffff" stroke-width="1.15" fill="none"/>
<rect x="417.4" y="422.7" width="12.9" height="8.9" rx="0" stroke="#00ee00" stroke-width="0.9" fill="none"/>
<rect x="417.6" y="423.0" width="2.2" height="8.5" rx="0" stroke="#00ee00" stroke-width="0.4" fill="#00ee00"/>
<path d="M430.3,423 L433,423 Q437,430 446,433 L447,437 Q440,436 430.3,431.6" stroke="#00ee00" stroke-width="0.9" fill="none"/>
<path d="M431,424 L432.5,424 L433,431 L431,430.5 Z" stroke="#00ee00" stroke-width="0.4" fill="#00ee00"/>
<path d="M440.4,431 L440.4,393 Q442,388.5 444,391 L449.8,422.7 L450.4,437" stroke="#ffffff" stroke-width="1.15" fill="none"/>
<circle cx="445.1" cy="426.8" r="1.5" stroke="#ffffff" stroke-width="0.9" fill="none"/>
<circle cx="447.4" cy="440.4" r="1.0" stroke="#ff2020" stroke-width="1" fill="none"/>
<rect x="441.0" y="458.8" width="4.7" height="39.1" rx="0" stroke="#ffffff" stroke-width="1.15" fill="none"/>
<path d="M447,448 Q458,462 456,478 Q455,492 447.7,499.2" stroke="#ffffff" stroke-width="1.2" fill="none"/>
<path d="M450,450 Q461,464 459.5,478 Q458,494 450,502" stroke="#ffffff" stroke-width="1.1" fill="none"/>
<path d="M454.4,453.5 L466,453.5 Q473.3,455 473.3,462 L473.3,494 Q473.3,502 466,502 L454.4,502" stroke="#ffffff" stroke-width="1.15" fill="none"/>
<circle cx="436.2" cy="478.4" r="2.7" stroke="#ffffff" stroke-width="1.15" fill="none"/>
<path d="M420.2,506.4 Q420,499 425.8,493 Q432,488 441,486" stroke="#ffffff" stroke-width="1.15" fill="none"/>
<path d="M427.7,506.4 Q429,500 436,497.5 Q440,495 444,494" stroke="#ffffff" stroke-width="1.15" fill="none"/>
<line x1="420.2" y1="506.4" x2="427.7" y2="506.4" stroke="#ffffff" stroke-width="1" />
<rect x="418.3" y="534.1" width="11.3" height="29.7" rx="0" stroke="#ffffff" stroke-width="1.15" fill="none"/>
<rect x="417.6" y="526.6" width="17.1" height="7.5" rx="0" stroke="#ffffff" stroke-width="1.15" fill="none"/>
<circle cx="418.3" cy="519.0" r="6.3" stroke="#ffffff" stroke-width="1.15" fill="none"/>
<rect x="424.0" y="514.0" width="5.6" height="9.4" rx="0" stroke="#ffffff" stroke-width="1" fill="none"/>
<line x1="421.5" y1="524.0" x2="425.0" y2="530.0" stroke="#ffffff" stroke-width="1.2" />
<polyline points="434.7,526.6 447.9,518.4 452.3,520.3 452.3,534.1 434.7,534.1" stroke="#ffffff" stroke-width="1.15" fill="none" stroke-linejoin="round"/>
<circle cx="444.8" cy="530.4" r="2.0" stroke="#ffffff" stroke-width="0.9" fill="none"/>
<path d="M439.7,534.1 L441.3,564 Q442.8,567 444.3,564 L449.2,534.1" stroke="#ffffff" stroke-width="1.15" fill="none"/>
<polyline points="419.2,393.2 574.8,393.2 574.8,564.0 419.2,564.0" stroke="#00ee00" stroke-width="1.1" fill="none" stroke-linejoin="round"/>
<text x="565.0" y="480.0" fill="#00aa00" font-size="3.3" transform="rotate(-90 568 480)">426</text>
<line x1="123.2" y1="370.1" x2="131.2" y2="370.1" stroke="#00d8e0" stroke-width="1" />
<line x1="131.2" y1="370.1" x2="153.6" y2="284.8" stroke="#00d8e0" stroke-width="1" />
<text x="125.2" y="368.6" fill="#009aa0" font-size="3.5" >32</text>
<line x1="142.6" y1="370.1" x2="150.6" y2="370.1" stroke="#00d8e0" stroke-width="1" />
<line x1="150.6" y1="370.1" x2="171.2" y2="464.3" stroke="#00d8e0" stroke-width="1" />
<text x="144.6" y="368.6" fill="#009aa0" font-size="3.5" >31</text>
<line x1="193.7" y1="367.0" x2="201.7" y2="367.0" stroke="#00d8e0" stroke-width="1" />
<line x1="193.7" y1="367.0" x2="220.2" y2="258.0" stroke="#00d8e0" stroke-width="1" />
<text x="195.7" y="365.5" fill="#009aa0" font-size="3.5" >34</text>
<line x1="212.5" y1="367.0" x2="220.5" y2="367.0" stroke="#00d8e0" stroke-width="1" />
<line x1="220.5" y1="367.0" x2="171.8" y2="462.7" stroke="#00d8e0" stroke-width="1" />
<text x="214.5" y="365.5" fill="#009aa0" font-size="3.5" >36</text>
<line x1="252.6" y1="368.2" x2="260.6" y2="368.2" stroke="#00d8e0" stroke-width="1" />
<line x1="252.6" y1="368.2" x2="225.3" y2="256.3" stroke="#00d8e0" stroke-width="1" />
<text x="254.6" y="366.7" fill="#009aa0" font-size="3.5" >45</text>
<line x1="298.6" y1="367.3" x2="306.6" y2="367.3" stroke="#00d8e0" stroke-width="1" />
<line x1="298.6" y1="367.3" x2="303.6" y2="445.8" stroke="#00d8e0" stroke-width="1" />
<text x="300.6" y="365.8" fill="#009aa0" font-size="3.5" >28</text>
<line x1="329.2" y1="367.3" x2="337.2" y2="367.3" stroke="#00d8e0" stroke-width="1" />
<line x1="337.2" y1="367.3" x2="306.0" y2="506.8" stroke="#00d8e0" stroke-width="1" />
<text x="331.2" y="365.8" fill="#009aa0" font-size="3.5" >27</text>
<line x1="363.4" y1="367.3" x2="371.4" y2="367.3" stroke="#00d8e0" stroke-width="1" />
<line x1="371.4" y1="367.3" x2="423.0" y2="400.0" stroke="#00d8e0" stroke-width="1" />
<text x="365.4" y="365.8" fill="#009aa0" font-size="3.5" >26</text>
<line x1="415.9" y1="367.3" x2="423.9" y2="367.3" stroke="#00d8e0" stroke-width="1" />
<line x1="415.9" y1="367.3" x2="447.8" y2="428.6" stroke="#00d8e0" stroke-width="1" />
<text x="417.9" y="365.8" fill="#009aa0" font-size="3.5" >25</text>
<line x1="464.7" y1="367.3" x2="472.7" y2="367.3" stroke="#00d8e0" stroke-width="1" />
<line x1="464.7" y1="367.3" x2="419.2" y2="516.4" stroke="#00d8e0" stroke-width="1" />
<text x="466.7" y="365.8" fill="#009aa0" font-size="3.5" >23</text>
<line x1="55.9" y1="145.9" x2="62.6" y2="145.9" stroke="#00d8e0" stroke-width="1" />
<line x1="62.6" y1="145.9" x2="257.4" y2="241.5" stroke="#00d8e0" stroke-width="1" />
<text x="57.0" y="144.4" fill="#009aa0" font-size="3.2" >1</text>
<line x1="55.9" y1="161.1" x2="62.6" y2="161.1" stroke="#00d8e0" stroke-width="1" />
<line x1="62.6" y1="161.1" x2="257.4" y2="244.4" stroke="#00d8e0" stroke-width="1" />
<text x="57.0" y="159.6" fill="#009aa0" font-size="3.2" >1</text>
<line x1="55.9" y1="173.7" x2="62.6" y2="173.7" stroke="#00d8e0" stroke-width="1" />
<line x1="62.6" y1="173.7" x2="243.0" y2="247.3" stroke="#00d8e0" stroke-width="1" />
<text x="57.0" y="172.2" fill="#009aa0" font-size="3.2" >1</text>
<line x1="55.9" y1="185.5" x2="62.6" y2="185.5" stroke="#00d8e0" stroke-width="1" />
<line x1="62.6" y1="185.5" x2="231.6" y2="253.0" stroke="#00d8e0" stroke-width="1" />
<text x="57.0" y="184.0" fill="#009aa0" font-size="3.2" >1</text>
<line x1="55.9" y1="199.0" x2="62.6" y2="199.0" stroke="#00d8e0" stroke-width="1" />
<line x1="62.6" y1="199.0" x2="170.0" y2="250.1" stroke="#00d8e0" stroke-width="1" />
<text x="57.0" y="197.5" fill="#009aa0" font-size="3.2" >1</text>
<line x1="55.9" y1="213.9" x2="62.6" y2="213.9" stroke="#00d8e0" stroke-width="1" />
<line x1="62.6" y1="213.9" x2="76.9" y2="220.2" stroke="#00d8e0" stroke-width="1" />
<text x="57.0" y="212.4" fill="#009aa0" font-size="3.2" >1</text>
<line x1="55.9" y1="222.7" x2="62.6" y2="222.7" stroke="#00d8e0" stroke-width="1" />
<line x1="62.6" y1="222.7" x2="82.0" y2="230.7" stroke="#00d8e0" stroke-width="1" />
<text x="57.0" y="221.2" fill="#009aa0" font-size="3.2" >1</text>
<line x1="55.9" y1="238.6" x2="62.6" y2="238.6" stroke="#00d8e0" stroke-width="1" />
<line x1="62.6" y1="238.6" x2="110.0" y2="250.0" stroke="#00d8e0" stroke-width="1" />
<text x="57.0" y="237.1" fill="#009aa0" font-size="3.2" >1</text>
<text x="307.0" y="318.0" fill="#00aa00" font-size="3.5" >1106</text>
<path d="M644.3,410.8h3.4 M644.3,412.5h3.4 M644.3,414.2h3.4 M646.0,410.8v3.4 M648.8,410.8h3.4 M648.8,412.5h3.4 M650.5,410.8v3.4 M652.2,410.8v3.4 M653.3,410.8h3.4 M653.3,412.5h3.4 M655.0,410.8v3.4 M653.3,410.8v3.4 M657.8,410.8h3.4 M657.8,412.5h3.4 M659.5,410.8v3.4 M657.8,410.8v3.4 M661.2,410.8v3.4" stroke="#00a800" stroke-width="0.42" fill="none"/>
<path d="M612.2,417.2h3.4 M612.2,418.9h3.4 M612.2,420.6h3.4 M613.9,417.2v3.4 M616.7,417.2h3.4 M616.7,418.9h3.4 M616.7,420.6h3.4 M618.4,417.2v3.4 M621.2,417.2h3.4 M621.2,418.9h3.4 M621.2,420.6h3.4 M622.9,417.2v3.4 M621.2,417.2v3.4 M624.6,417.2v3.4 M625.7,417.2h3.4 M625.7,418.9h3.4 M625.7,420.6h3.4 M627.4,417.2v3.4 M630.2,417.2h3.4 M630.2,418.9h3.4 M630.2,420.6h3.4 M631.9,417.2v3.4 M634.7,417.2h3.4 M634.7,418.9h3.4 M634.7,420.6h3.4 M636.4,417.2v3.4 M634.7,417.2v3.4 M638.1,417.2v3.4 M639.2,417.2h3.4 M639.2,418.9h3.4 M639.2,420.6h3.4 M640.9,417.2v3.4 M643.7,417.2h3.4 M643.7,418.9h3.4 M643.7,420.6h3.4 M645.4,417.2v3.4 M643.7,417.2v3.4 M647.1,417.2v3.4 M648.2,417.2h3.4 M648.2,418.9h3.4 M649.9,417.2v3.4 M651.6,417.2v3.4 M652.7,417.2h3.4 M652.7,418.9h3.4 M652.7,420.6h3.4 M654.4,417.2v3.4 M657.2,417.2h3.4 M657.2,418.9h3.4 M657.2,420.6h3.4 M658.9,417.2v3.4 M661.7,417.2h3.4 M661.7,418.9h3.4 M663.4,417.2v3.4 M661.7,417.2v3.4 M666.2,417.2h3.4 M666.2,418.9h3.4 M667.9,417.2v3.4 M666.2,417.2v3.4" stroke="#00a800" stroke-width="0.42" fill="none"/>
<path d="M612.2,423.0h3.4 M612.2,424.7h3.4 M612.2,426.4h3.4 M613.9,423.0v3.4 M616.7,423.0h3.4 M616.7,424.7h3.4 M618.4,423.0v3.4 M620.1,423.0v3.4 M621.2,423.0h3.4 M621.2,424.7h3.4 M621.2,426.4h3.4 M622.9,423.0v3.4 M625.7,423.0h3.4 M625.7,424.7h3.4 M625.7,426.4h3.4 M627.4,423.0v3.4 M625.7,423.0v3.4 M629.1,423.0v3.4 M630.2,423.0h3.4 M630.2,424.7h3.4 M631.9,423.0v3.4 M630.2,423.0v3.4 M634.7,423.0h3.4 M634.7,424.7h3.4 M634.7,426.4h3.4 M636.4,423.0v3.4 M639.2,423.0h3.4 M639.2,424.7h3.4 M639.2,426.4h3.4 M640.9,423.0v3.4 M639.2,423.0v3.4 M642.6,423.0v3.4 M643.7,423.0h3.4 M643.7,424.7h3.4 M643.7,426.4h3.4 M645.4,423.0v3.4 M648.2,423.0h3.4 M648.2,424.7h3.4 M649.9,423.0v3.4 M651.6,423.0v3.4 M652.7,423.0h3.4 M652.7,424.7h3.4 M654.4,423.0v3.4 M652.7,423.0v3.4 M656.1,423.0v3.4 M657.2,423.0h3.4 M657.2,424.7h3.4 M658.9,423.0v3.4 M657.2,423.0v3.4 M660.6,423.0v3.4 M661.7,423.0h3.4 M661.7,424.7h3.4 M661.7,426.4h3.4 M663.4,423.0v3.4 M661.7,423.0v3.4 M665.1,423.0v3.4 M666.2,423.0h3.4 M666.2,424.7h3.4 M666.2,426.4h3.4 M667.9,423.0v3.4 M670.7,423.0h3.4 M670.7,424.7h3.4 M670.7,426.4h3.4 M672.4,423.0v3.4 M670.7,423.0v3.4 M674.1,423.0v3.4 M675.2,423.0h3.4 M675.2,424.7h3.4 M675.2,426.4h3.4 M676.9,423.0v3.4 M675.2,423.0v3.4 M678.6,423.0v3.4 M679.7,423.0h3.4 M679.7,424.7h3.4 M681.4,423.0v3.4 M679.7,423.0v3.4 M684.2,423.0h3.4 M684.2,424.7h3.4 M684.2,426.4h3.4 M685.9,423.0v3.4 M688.7,423.0h3.4 M688.7,424.7h3.4 M690.4,423.0v3.4 M692.1,423.0v3.4" stroke="#00a800" stroke-width="0.42" fill="none"/>
<path d="M616.5,428.8h3.4 M616.5,430.5h3.4 M616.5,432.2h3.4 M618.2,428.8v3.4 M621.0,428.8h3.4 M621.0,430.5h3.4 M621.0,432.2h3.4 M622.7,428.8v3.4 M621.0,428.8v3.4 M624.4,428.8v3.4 M625.5,428.8h3.4 M625.5,430.5h3.4 M627.2,428.8v3.4 M628.9,428.8v3.4 M630.0,428.8h3.4 M630.0,430.5h3.4 M630.0,432.2h3.4 M631.7,428.8v3.4 M634.5,428.8h3.4 M634.5,430.5h3.4 M636.2,428.8v3.4 M634.5,428.8v3.4 M639.0,428.8h3.4 M639.0,430.5h3.4 M640.7,428.8v3.4 M642.4,428.8v3.4" stroke="#00a800" stroke-width="0.42" fill="none"/>
<path d="M612.2,434.5h3.4 M612.2,436.2h3.4 M612.2,437.9h3.4 M613.9,434.5v3.4 M612.2,434.5v3.4 M615.6,434.5v3.4 M616.7,434.5h3.4 M616.7,436.2h3.4 M616.7,437.9h3.4 M618.4,434.5v3.4 M621.2,434.5h3.4 M621.2,436.2h3.4 M621.2,437.9h3.4 M622.9,434.5v3.4 M621.2,434.5v3.4 M624.6,434.5v3.4 M625.7,434.5h3.4 M625.7,436.2h3.4 M625.7,437.9h3.4 M627.4,434.5v3.4 M630.2,434.5h3.4 M630.2,436.2h3.4 M630.2,437.9h3.4 M631.9,434.5v3.4 M630.2,434.5v3.4 M633.6,434.5v3.4 M634.7,434.5h3.4 M634.7,436.2h3.4 M636.4,434.5v3.4 M634.7,434.5v3.4 M638.1,434.5v3.4 M639.2,434.5h3.4 M639.2,436.2h3.4 M640.9,434.5v3.4 M642.6,434.5v3.4 M643.7,434.5h3.4 M643.7,436.2h3.4 M643.7,437.9h3.4 M645.4,434.5v3.4 M648.2,434.5h3.4 M648.2,436.2h3.4 M648.2,437.9h3.4 M649.9,434.5v3.4 M648.2,434.5v3.4 M651.6,434.5v3.4 M652.7,434.5h3.4 M652.7,436.2h3.4 M652.7,437.9h3.4 M654.4,434.5v3.4 M652.7,434.5v3.4 M656.1,434.5v3.4 M657.2,434.5h3.4 M657.2,436.2h3.4 M658.9,434.5v3.4 M657.2,434.5v3.4 M660.6,434.5v3.4 M661.7,434.5h3.4 M661.7,436.2h3.4 M663.4,434.5v3.4 M665.1,434.5v3.4 M666.2,434.5h3.4 M666.2,436.2h3.4 M666.2,437.9h3.4 M667.9,434.5v3.4 M670.7,434.5h3.4 M670.7,436.2h3.4 M670.7,437.9h3.4 M672.4,434.5v3.4" stroke="#00a800" stroke-width="0.42" fill="none"/>
<path d="M612.2,440.2h3.4 M612.2,441.9h3.4 M612.2,443.6h3.4 M613.9,440.2v3.4 M612.2,440.2v3.4 M615.6,440.2v3.4 M616.7,440.2h3.4 M616.7,441.9h3.4 M618.4,440.2v3.4 M616.7,440.2v3.4 M620.1,440.2v3.4 M621.2,440.2h3.4 M621.2,441.9h3.4 M621.2,443.6h3.4 M622.9,440.2v3.4 M625.7,440.2h3.4 M625.7,441.9h3.4 M625.7,443.6h3.4 M627.4,440.2v3.4 M625.7,440.2v3.4 M629.1,440.2v3.4 M630.2,440.2h3.4 M630.2,441.9h3.4 M630.2,443.6h3.4 M631.9,440.2v3.4 M634.7,440.2h3.4 M634.7,441.9h3.4 M634.7,443.6h3.4 M636.4,440.2v3.4 M634.7,440.2v3.4 M638.1,440.2v3.4 M639.2,440.2h3.4 M639.2,441.9h3.4 M640.9,440.2v3.4 M642.6,440.2v3.4 M643.7,440.2h3.4 M643.7,441.9h3.4 M645.4,440.2v3.4 M643.7,440.2v3.4 M648.2,440.2h3.4 M648.2,441.9h3.4 M649.9,440.2v3.4 M648.2,440.2v3.4 M651.6,440.2v3.4 M652.7,440.2h3.4 M652.7,441.9h3.4 M652.7,443.6h3.4 M654.4,440.2v3.4 M652.7,440.2v3.4 M656.1,440.2v3.4 M657.2,440.2h3.4 M657.2,441.9h3.4 M658.9,440.2v3.4 M657.2,440.2v3.4 M661.7,440.2h3.4 M661.7,441.9h3.4 M661.7,443.6h3.4 M663.4,440.2v3.4 M666.2,440.2h3.4 M666.2,441.9h3.4 M667.9,440.2v3.4 M666.2,440.2v3.4 M670.7,440.2h3.4 M670.7,441.9h3.4 M670.7,443.6h3.4 M672.4,440.2v3.4 M670.7,440.2v3.4 M674.1,440.2v3.4 M675.2,440.2h3.4 M675.2,441.9h3.4 M676.9,440.2v3.4 M675.2,440.2v3.4" stroke="#00a800" stroke-width="0.42" fill="none"/>
<line x1="710.5" y1="376.5" x2="836.5" y2="376.5" stroke="#ffff00" stroke-width="1.1" />
<line x1="710.5" y1="381.4" x2="836.5" y2="381.4" stroke="#ffff00" stroke-width="1.1" />
<line x1="710.5" y1="386.3" x2="836.5" y2="386.3" stroke="#ffff00" stroke-width="1.1" />
<line x1="710.5" y1="391.3" x2="836.5" y2="391.3" stroke="#ffff00" stroke-width="1.1" />
<line x1="710.5" y1="396.2" x2="836.5" y2="396.2" stroke="#ffff00" stroke-width="1.1" />
<line x1="710.5" y1="401.1" x2="836.5" y2="401.1" stroke="#ffff00" stroke-width="1.1" />
<line x1="710.5" y1="406.0" x2="836.5" y2="406.0" stroke="#ffff00" stroke-width="1.1" />
<line x1="710.5" y1="410.9" x2="836.5" y2="410.9" stroke="#ffff00" stroke-width="1.1" />
<line x1="710.5" y1="415.9" x2="836.5" y2="415.9" stroke="#ffff00" stroke-width="1.1" />
<line x1="710.5" y1="420.8" x2="836.5" y2="420.8" stroke="#ffff00" stroke-width="1.1" />
<line x1="710.5" y1="425.7" x2="836.5" y2="425.7" stroke="#ffff00" stroke-width="1.1" />
<line x1="710.5" y1="430.6" x2="836.5" y2="430.6" stroke="#ffff00" stroke-width="1.1" />
<line x1="710.5" y1="435.5" x2="836.5" y2="435.5" stroke="#ffff00" stroke-width="1.1" />
<line x1="710.5" y1="440.5" x2="836.5" y2="440.5" stroke="#ffff00" stroke-width="1.1" />
<line x1="710.5" y1="445.4" x2="836.5" y2="445.4" stroke="#ffff00" stroke-width="1.1" />
<line x1="710.5" y1="450.3" x2="836.5" y2="450.3" stroke="#ffff00" stroke-width="1.1" />
<line x1="710.5" y1="455.2" x2="836.5" y2="455.2" stroke="#ffff00" stroke-width="1.1" />
<line x1="710.5" y1="460.1" x2="836.5" y2="460.1" stroke="#ffff00" stroke-width="1.1" />
<line x1="710.5" y1="465.1" x2="836.5" y2="465.1" stroke="#ffff00" stroke-width="1.1" />
<line x1="710.5" y1="470.0" x2="836.5" y2="470.0" stroke="#ffff00" stroke-width="1.1" />
<line x1="710.5" y1="474.9" x2="836.5" y2="474.9" stroke="#ffff00" stroke-width="1.1" />
<line x1="710.5" y1="479.8" x2="836.5" y2="479.8" stroke="#ffff00" stroke-width="1.1" />
<line x1="710.5" y1="484.7" x2="836.5" y2="484.7" stroke="#ffff00" stroke-width="1.1" />
<line x1="710.5" y1="489.7" x2="836.5" y2="489.7" stroke="#ffff00" stroke-width="1.1" />
<line x1="710.5" y1="494.6" x2="836.5" y2="494.6" stroke="#ffff00" stroke-width="1.1" />
<line x1="710.5" y1="499.5" x2="836.5" y2="499.5" stroke="#ffff00" stroke-width="1.1" />
<line x1="710.5" y1="504.4" x2="836.5" y2="504.4" stroke="#ffff00" stroke-width="1.1" />
<line x1="710.5" y1="509.3" x2="836.5" y2="509.3" stroke="#ffff00" stroke-width="1.1" />
<line x1="710.5" y1="514.3" x2="836.5" y2="514.3" stroke="#ffff00" stroke-width="1.1" />
<line x1="710.5" y1="519.2" x2="836.5" y2="519.2" stroke="#ffff00" stroke-width="1.1" />
<line x1="710.5" y1="524.1" x2="836.5" y2="524.1" stroke="#ffff00" stroke-width="1.1" />
<line x1="710.5" y1="529.0" x2="836.5" y2="529.0" stroke="#ffff00" stroke-width="1.1" />
<line x1="710.5" y1="533.9" x2="836.5" y2="533.9" stroke="#ffff00" stroke-width="1.1" />
<line x1="710.5" y1="538.9" x2="836.5" y2="538.9" stroke="#ffff00" stroke-width="1.1" />
<line x1="710.5" y1="543.8" x2="836.5" y2="543.8" stroke="#ffff00" stroke-width="1.1" />
<line x1="710.8" y1="376.5" x2="710.8" y2="553.0" stroke="#dddddd" stroke-width="1.2" />
<line x1="716.2" y1="376.5" x2="716.2" y2="553.0" stroke="#dddddd" stroke-width="1.2" />
<line x1="745.1" y1="376.5" x2="745.1" y2="553.0" stroke="#dddddd" stroke-width="1.2" />
<line x1="775.2" y1="376.5" x2="775.2" y2="553.0" stroke="#dddddd" stroke-width="1.2" />
<line x1="780.4" y1="376.5" x2="780.4" y2="553.0" stroke="#dddddd" stroke-width="1.2" />
<line x1="807.6" y1="376.5" x2="807.6" y2="553.0" stroke="#dddddd" stroke-width="1.2" />
<line x1="822.8" y1="376.5" x2="822.8" y2="553.0" stroke="#dddddd" stroke-width="1.2" />
<line x1="815.3" y1="376.5" x2="815.3" y2="548.2" stroke="#dddddd" stroke-width="1.2" />
<line x1="807.6" y1="548.2" x2="822.8" y2="548.2" stroke="#ffff00" stroke-width="1.1" />
<line x1="807.6" y1="548.2" x2="807.6" y2="553.0" stroke="#ffff00" stroke-width="1.2" />
<path d="M711.6,377.5h2.9 M711.6,378.9h2.9 M711.6,380.4h2.9 M713.1,377.5v2.9" stroke="#10a010" stroke-width="0.72" fill="none"/>
<path d="M776.5,377.5h2.6 M776.5,378.8h2.6 M776.5,380.1h2.6 M777.8,377.5v2.6" stroke="#10a010" stroke-width="0.72" fill="none"/>
<path d="M746.3,377.5h2.9 M746.3,378.9h2.9 M747.8,377.5v2.9 M749.2,377.5v2.9 M750.0,377.5h2.9 M750.0,378.9h2.9 M751.5,377.5v2.9 M752.9,377.5v2.9 M753.7,377.5h2.9 M753.7,378.9h2.9 M755.1,377.5v2.9 M753.7,377.5v2.9 M756.6,377.5v2.9 M757.4,377.5h2.9 M757.4,378.9h2.9 M758.9,377.5v2.9 M760.3,377.5v2.9 M761.1,377.5h2.9 M761.1,378.9h2.9 M761.1,380.4h2.9 M762.6,377.5v2.9 M764.8,377.5h2.9 M764.8,378.9h2.9 M764.8,380.4h2.9 M766.2,377.5v2.9 M764.8,377.5v2.9 M767.7,377.5v2.9 M768.5,377.5h2.9 M768.5,378.9h2.9 M768.5,380.4h2.9 M770.0,377.5v2.9 M772.2,377.5h2.9 M772.2,378.9h2.9 M772.2,380.4h2.9 M773.7,377.5v2.9 M772.2,377.5v2.9 M775.1,377.5v2.9" stroke="#22dd22" stroke-width="0.72" fill="none"/>
<path d="M711.6,382.4h2.9 M711.6,383.9h2.9 M713.1,382.4v2.9 M711.6,382.4v2.9" stroke="#10a010" stroke-width="0.72" fill="none"/>
<path d="M776.5,382.4h2.6 M776.5,383.7h2.6 M776.5,385.0h2.6 M777.8,382.4v2.6" stroke="#10a010" stroke-width="0.72" fill="none"/>
<path d="M746.3,382.4h2.9 M746.3,383.9h2.9 M747.8,382.4v2.9 M746.3,382.4v2.9 M749.2,382.4v2.9 M750.0,382.4h2.9 M750.0,383.9h2.9 M751.5,382.4v2.9 M750.0,382.4v2.9 M753.7,382.4h2.9 M753.7,383.9h2.9 M753.7,385.3h2.9 M755.1,382.4v2.9 M757.4,382.4h2.9 M757.4,383.9h2.9 M757.4,385.3h2.9 M758.9,382.4v2.9 M757.4,382.4v2.9 M760.3,382.4v2.9 M761.1,382.4h2.9 M761.1,383.9h2.9 M761.1,385.3h2.9 M762.6,382.4v2.9 M764.8,382.4h2.9 M764.8,383.9h2.9 M764.8,385.3h2.9 M766.2,382.4v2.9 M768.5,382.4h2.9 M768.5,383.9h2.9 M768.5,385.3h2.9 M770.0,382.4v2.9 M768.5,382.4v2.9 M771.4,382.4v2.9 M772.2,382.4h2.9 M772.2,383.9h2.9 M773.7,382.4v2.9 M772.2,382.4v2.9" stroke="#22dd22" stroke-width="0.72" fill="none"/>
<path d="M711.6,387.3h2.9 M711.6,388.8h2.9 M713.1,387.3v2.9 M714.5,387.3v2.9" stroke="#10a010" stroke-width="0.72" fill="none"/>
<path d="M776.5,387.3h2.6 M776.5,388.6h2.6 M776.5,389.9h2.6 M777.8,387.3v2.6" stroke="#10a010" stroke-width="0.72" fill="none"/>
<path d="M717.4,387.3h2.9 M717.4,388.8h2.9 M718.9,387.3v2.9 M720.3,387.3v2.9 M721.1,387.3h2.9 M721.1,388.8h2.9 M722.6,387.3v2.9 M721.1,387.3v2.9 M724.8,387.3h2.9 M724.8,388.8h2.9 M726.2,387.3v2.9 M724.8,387.3v2.9 M728.5,387.3h2.9 M728.5,388.8h2.9 M728.5,390.2h2.9 M730.0,387.3v2.9" stroke="#22dd22" stroke-width="0.72" fill="none"/>
<path d="M746.3,387.3h2.9 M746.3,388.8h2.9 M747.8,387.3v2.9 M746.3,387.3v2.9 M749.2,387.3v2.9 M749.6,387.3h2.9 M749.6,388.8h2.9 M749.6,390.2h2.9 M751.1,387.3v2.9 M753.0,387.3h2.9 M753.0,388.8h2.9 M753.0,390.2h2.9 M754.5,387.3v2.9 M753.0,387.3v2.9 M755.9,387.3v2.9 M756.4,387.3h2.9 M756.4,388.8h2.9 M756.4,390.2h2.9 M757.8,387.3v2.9 M756.4,387.3v2.9 M759.2,387.3v2.9 M759.7,387.3h2.9 M759.7,388.8h2.9 M759.7,390.2h2.9 M761.2,387.3v2.9" stroke="#22dd22" stroke-width="0.72" fill="none"/>
<path d="M784.5,387.3h2.9 M784.5,388.8h2.9 M784.5,390.2h2.9 M786.0,387.3v2.9 M788.5,387.3h2.9 M788.5,388.8h2.9 M790.0,387.3v2.9 M788.5,387.3v2.9 M791.4,387.3v2.9 M792.5,387.3h2.9 M792.5,388.8h2.9 M792.5,390.2h2.9 M794.0,387.3v2.9" stroke="#22dd22" stroke-width="0.72" fill="none"/>
<path d="M711.6,392.3h2.9 M711.6,393.7h2.9 M711.6,395.2h2.9 M713.1,392.3v2.9 M711.6,392.3v2.9 M714.5,392.3v2.9" stroke="#10a010" stroke-width="0.72" fill="none"/>
<path d="M776.5,392.3h2.6 M776.5,393.6h2.6 M777.8,392.3v2.6 M776.5,392.3v2.6" stroke="#10a010" stroke-width="0.72" fill="none"/>
<path d="M747.0,392.3h2.9 M747.0,393.7h2.9 M747.0,395.2h2.9 M748.5,392.3v2.9 M747.0,392.3v2.9 M749.9,392.3v2.9 M750.2,392.3h2.9 M750.2,393.7h2.9 M751.7,392.3v2.9 M750.2,392.3v2.9 M753.4,392.3h2.9 M753.4,393.7h2.9 M753.4,395.2h2.9 M754.9,392.3v2.9 M756.6,392.3h2.9 M756.6,393.7h2.9 M756.6,395.2h2.9 M758.1,392.3v2.9" stroke="#22dd22" stroke-width="0.72" fill="none"/>
<path d="M784.5,392.3h2.9 M784.5,393.7h2.9 M784.5,395.2h2.9 M786.0,392.3v2.9 M789.4,392.3h2.9 M789.4,393.7h2.9 M790.9,392.3v2.9 M789.4,392.3v2.9" stroke="#22dd22" stroke-width="0.72" fill="none"/>
<path d="M711.6,397.2h2.9 M711.6,398.6h2.9 M713.1,397.2v2.9 M711.6,397.2v2.9 M714.5,397.2v2.9" stroke="#10a010" stroke-width="0.72" fill="none"/>
<path d="M776.5,397.2h2.6 M776.5,398.5h2.6 M777.8,397.2v2.6 M776.5,397.2v2.6 M779.1,397.2v2.6" stroke="#10a010" stroke-width="0.72" fill="none"/>
<path d="M717.4,397.2h2.9 M717.4,398.6h2.9 M717.4,400.1h2.9 M718.9,397.2v2.9 M721.2,397.2h2.9 M721.2,398.6h2.9 M721.2,400.1h2.9 M722.6,397.2v2.9 M725.0,397.2h2.9 M725.0,398.6h2.9 M726.4,397.2v2.9 M725.0,397.2v2.9 M727.9,397.2v2.9 M728.7,397.2h2.9 M728.7,398.6h2.9 M730.2,397.2v2.9 M728.7,397.2v2.9 M731.6,397.2v2.9 M732.5,397.2h2.9 M732.5,398.6h2.9 M732.5,400.1h2.9 M734.0,397.2v2.9 M736.3,397.2h2.9 M736.3,398.6h2.9 M737.8,397.2v2.9 M736.3,397.2v2.9 M739.2,397.2v2.9" stroke="#22dd22" stroke-width="0.72" fill="none"/>
<path d="M746.3,397.2h2.9 M746.3,398.6h2.9 M746.3,400.1h2.9 M747.8,397.2v2.9 M746.3,397.2v2.9 M749.2,397.2v2.9 M750.0,397.2h2.9 M750.0,398.6h2.9 M751.5,397.2v2.9 M750.0,397.2v2.9 M752.9,397.2v2.9 M753.7,397.2h2.9 M753.7,398.6h2.9 M755.1,397.2v2.9 M753.7,397.2v2.9 M757.4,397.2h2.9 M757.4,398.6h2.9 M757.4,400.1h2.9 M758.9,397.2v2.9 M761.1,397.2h2.9 M761.1,398.6h2.9 M762.6,397.2v2.9 M761.1,397.2v2.9 M764.0,397.2v2.9 M764.8,397.2h2.9 M764.8,398.6h2.9 M766.2,397.2v2.9 M764.8,397.2v2.9 M768.5,397.2h2.9 M768.5,398.6h2.9 M770.0,397.2v2.9 M768.5,397.2v2.9 M771.4,397.2v2.9 M772.2,397.2h2.9 M772.2,398.6h2.9 M772.2,400.1h2.9 M773.7,397.2v2.9" stroke="#22dd22" stroke-width="0.72" fill="none"/>
<path d="M782.9,397.2h2.9 M782.9,398.6h2.9 M782.9,400.1h2.9 M784.4,397.2v2.9 M786.1,397.2h2.9 M786.1,398.6h2.9 M787.6,397.2v2.9 M786.1,397.2v2.9 M789.3,397.2h2.9 M789.3,398.6h2.9 M789.3,400.1h2.9 M790.8,397.2v2.9 M792.5,397.2h2.9 M792.5,398.6h2.9 M794.0,397.2v2.9 M795.4,397.2v2.9" stroke="#22dd22" stroke-width="0.72" fill="none"/>
<path d="M825.1,397.2h2.9 M825.1,398.6h2.9 M825.1,400.1h2.9 M826.6,397.2v2.9 M825.1,397.2v2.9 M828.0,397.2v2.9 M829.1,397.2h2.9 M829.1,398.6h2.9 M829.1,400.1h2.9 M830.6,397.2v2.9 M833.1,397.2h2.9 M833.1,398.6h2.9 M834.6,397.2v2.9 M833.1,397.2v2.9" stroke="#22dd22" stroke-width="0.72" fill="none"/>
<path d="M711.6,402.1h2.9 M711.6,403.6h2.9 M711.6,405.0h2.9 M713.1,402.1v2.9" stroke="#10a010" stroke-width="0.72" fill="none"/>
<path d="M776.5,402.1h2.6 M776.5,403.4h2.6 M777.8,402.1v2.6 M779.1,402.1v2.6" stroke="#10a010" stroke-width="0.72" fill="none"/>
<path d="M717.4,402.1h2.9 M717.4,403.6h2.9 M717.4,405.0h2.9 M718.9,402.1v2.9 M721.4,402.1h2.9 M721.4,403.6h2.9 M722.8,402.1v2.9 M724.2,402.1v2.9 M725.3,402.1h2.9 M725.3,403.6h2.9 M726.8,402.1v2.9 M725.3,402.1v2.9 M728.2,402.1v2.9 M729.2,402.1h2.9 M729.2,403.6h2.9 M730.7,402.1v2.9 M732.1,402.1v2.9 M733.2,402.1h2.9 M733.2,403.6h2.9 M734.7,402.1v2.9 M733.2,402.1v2.9" stroke="#22dd22" stroke-width="0.72" fill="none"/>
<path d="M746.3,402.1h2.9 M746.3,403.6h2.9 M747.8,402.1v2.9 M746.3,402.1v2.9 M749.8,402.1h2.9 M749.8,403.6h2.9 M751.2,402.1v2.9 M749.8,402.1v2.9 M753.3,402.1h2.9 M753.3,403.6h2.9 M753.3,405.0h2.9 M754.7,402.1v2.9 M756.8,402.1h2.9 M756.8,403.6h2.9 M758.2,402.1v2.9 M759.7,402.1v2.9 M760.2,402.1h2.9 M760.2,403.6h2.9 M761.7,402.1v2.9 M760.2,402.1v2.9 M763.7,402.1h2.9 M763.7,403.6h2.9 M765.2,402.1v2.9 M763.7,402.1v2.9 M767.2,402.1h2.9 M767.2,403.6h2.9 M767.2,405.0h2.9 M768.7,402.1v2.9 M767.2,402.1v2.9 M770.1,402.1v2.9 M770.7,402.1h2.9 M770.7,403.6h2.9 M770.7,405.0h2.9 M772.2,402.1v2.9" stroke="#22dd22" stroke-width="0.72" fill="none"/>
<path d="M784.5,402.1h2.9 M784.5,403.6h2.9 M786.0,402.1v2.9 M787.4,402.1v2.9 M787.7,402.1h2.9 M787.7,403.6h2.9 M789.2,402.1v2.9 M787.7,402.1v2.9 M790.9,402.1h2.9 M790.9,403.6h2.9 M790.9,405.0h2.9 M792.4,402.1v2.9 M790.9,402.1v2.9 M793.8,402.1v2.9 M794.1,402.1h2.9 M794.1,403.6h2.9 M794.1,405.0h2.9 M795.6,402.1v2.9" stroke="#22dd22" stroke-width="0.72" fill="none"/>
<path d="M823.5,402.1h2.9 M823.5,403.6h2.9 M825.0,402.1v2.9 M823.5,402.1v2.9 M826.4,402.1v2.9" stroke="#22dd22" stroke-width="0.72" fill="none"/>
<path d="M711.6,407.0h2.9 M711.6,408.5h2.9 M713.1,407.0v2.9 M711.6,407.0v2.9" stroke="#10a010" stroke-width="0.72" fill="none"/>
<path d="M776.5,407.0h2.6 M776.5,408.3h2.6 M776.5,409.6h2.6 M777.8,407.0v2.6" stroke="#10a010" stroke-width="0.72" fill="none"/>
<path d="M717.4,407.0h2.9 M717.4,408.5h2.9 M718.9,407.0v2.9 M717.4,407.0v2.9 M720.3,407.0v2.9 M721.2,407.0h2.9 M721.2,408.5h2.9 M722.6,407.0v2.9 M721.2,407.0v2.9 M725.0,407.0h2.9 M725.0,408.5h2.9 M726.4,407.0v2.9 M727.9,407.0v2.9 M728.7,407.0h2.9 M728.7,408.5h2.9 M730.2,407.0v2.9 M731.6,407.0v2.9 M732.5,407.0h2.9 M732.5,408.5h2.9 M732.5,409.9h2.9 M734.0,407.0v2.9 M736.3,407.0h2.9 M736.3,408.5h2.9 M737.8,407.0v2.9 M739.2,407.0v2.9" stroke="#22dd22" stroke-width="0.72" fill="none"/>
<path d="M747.0,407.0h2.9 M747.0,408.5h2.9 M748.5,407.0v2.9 M749.9,407.0v2.9 M750.2,407.0h2.9 M750.2,408.5h2.9 M751.7,407.0v2.9 M753.1,407.0v2.9 M753.4,407.0h2.9 M753.4,408.5h2.9 M754.9,407.0v2.9 M753.4,407.0v2.9 M756.3,407.0v2.9 M756.6,407.0h2.9 M756.6,408.5h2.9 M758.1,407.0v2.9 M759.5,407.0v2.9" stroke="#22dd22" stroke-width="0.72" fill="none"/>
<path d="M784.5,407.0h2.9 M784.5,408.5h2.9 M784.5,409.9h2.9 M786.0,407.0v2.9 M787.7,407.0h2.9 M787.7,408.5h2.9 M789.2,407.0v2.9 M787.7,407.0v2.9 M790.9,407.0h2.9 M790.9,408.5h2.9 M790.9,409.9h2.9 M792.4,407.0v2.9 M790.9,407.0v2.9 M793.8,407.0v2.9 M794.1,407.0h2.9 M794.1,408.5h2.9 M795.6,407.0v2.9 M797.0,407.0v2.9" stroke="#22dd22" stroke-width="0.72" fill="none"/>
<path d="M711.6,411.9h2.9 M711.6,413.4h2.9 M711.6,414.8h2.9 M713.1,411.9v2.9" stroke="#10a010" stroke-width="0.72" fill="none"/>
<path d="M776.5,411.9h2.6 M776.5,413.2h2.6 M776.5,414.5h2.6 M777.8,411.9v2.6" stroke="#10a010" stroke-width="0.72" fill="none"/>
<path d="M750.2,411.9h2.9 M750.2,413.4h2.9 M750.2,414.8h2.9 M751.7,411.9v2.9 M753.9,411.9h2.9 M753.9,413.4h2.9 M755.4,411.9v2.9 M756.8,411.9v2.9 M757.6,411.9h2.9 M757.6,413.4h2.9 M759.1,411.9v2.9 M757.6,411.9v2.9 M761.3,411.9h2.9 M761.3,413.4h2.9 M761.3,414.8h2.9 M762.8,411.9v2.9 M761.3,411.9v2.9 M764.2,411.9v2.9" stroke="#22dd22" stroke-width="0.72" fill="none"/>
<path d="M786.0,411.9h2.9 M786.0,413.4h2.9 M786.0,414.8h2.9 M787.5,411.9v2.9 M790.0,411.9h2.9 M790.0,413.4h2.9 M790.0,414.8h2.9 M791.5,411.9v2.9 M790.0,411.9v2.9 M792.9,411.9v2.9 M794.1,411.9h2.9 M794.1,413.4h2.9 M794.1,414.8h2.9 M795.6,411.9v2.9 M794.1,411.9v2.9 M797.0,411.9v2.9" stroke="#22dd22" stroke-width="0.72" fill="none"/>
<path d="M711.6,416.9h2.9 M711.6,418.3h2.9 M711.6,419.8h2.9 M713.1,416.9v2.9" stroke="#10a010" stroke-width="0.72" fill="none"/>
<path d="M776.5,416.9h2.6 M776.5,418.2h2.6 M777.8,416.9v2.6 M779.1,416.9v2.6" stroke="#10a010" stroke-width="0.72" fill="none"/>
<path d="M750.2,416.9h2.9 M750.2,418.3h2.9 M751.7,416.9v2.9 M750.2,416.9v2.9 M753.1,416.9v2.9 M753.4,416.9h2.9 M753.4,418.3h2.9 M753.4,419.8h2.9 M754.9,416.9v2.9 M753.4,416.9v2.9 M756.3,416.9v2.9 M756.6,416.9h2.9 M756.6,418.3h2.9 M756.6,419.8h2.9 M758.1,416.9v2.9 M756.6,416.9v2.9 M759.5,416.9v2.9" stroke="#22dd22" stroke-width="0.72" fill="none"/>
<path d="M784.5,416.9h2.9 M784.5,418.3h2.9 M786.0,416.9v2.9 M784.5,416.9v2.9 M787.4,416.9v2.9 M789.4,416.9h2.9 M789.4,418.3h2.9 M790.9,416.9v2.9 M789.4,416.9v2.9 M792.3,416.9v2.9" stroke="#22dd22" stroke-width="0.72" fill="none"/>
<path d="M711.6,421.8h2.9 M711.6,423.2h2.9 M713.1,421.8v2.9 M711.6,421.8v2.9 M714.5,421.8v2.9" stroke="#10a010" stroke-width="0.72" fill="none"/>
<path d="M776.5,421.8h2.6 M776.5,423.1h2.6 M776.5,424.4h2.6 M777.8,421.8v2.6" stroke="#10a010" stroke-width="0.72" fill="none"/>
<path d="M750.2,421.8h2.9 M750.2,423.2h2.9 M751.7,421.8v2.9 M750.2,421.8v2.9 M753.4,421.8h2.9 M753.4,423.2h2.9 M754.8,421.8v2.9 M753.4,421.8v2.9 M756.3,421.8v2.9 M756.5,421.8h2.9 M756.5,423.2h2.9 M756.5,424.7h2.9 M758.0,421.8v2.9 M756.5,421.8v2.9 M759.4,421.8v2.9 M759.7,421.8h2.9 M759.7,423.2h2.9 M761.2,421.8v2.9 M759.7,421.8v2.9" stroke="#22dd22" stroke-width="0.72" fill="none"/>
<path d="M782.9,421.8h2.9 M782.9,423.2h2.9 M784.4,421.8v2.9 M782.9,421.8v2.9 M786.7,421.8h2.9 M786.7,423.2h2.9 M788.1,421.8v2.9 M786.7,421.8v2.9 M790.5,421.8h2.9 M790.5,423.2h2.9 M792.0,421.8v2.9 M790.5,421.8v2.9 M794.3,421.8h2.9 M794.3,423.2h2.9 M794.3,424.7h2.9 M795.8,421.8v2.9 M798.1,421.8h2.9 M798.1,423.2h2.9 M799.5,421.8v2.9 M798.1,421.8v2.9 M801.9,421.8h2.9 M801.9,423.2h2.9 M803.4,421.8v2.9 M801.9,421.8v2.9 M804.8,421.8v2.9" stroke="#22dd22" stroke-width="0.72" fill="none"/>
<path d="M711.6,426.7h2.9 M711.6,428.1h2.9 M713.1,426.7v2.9 M711.6,426.7v2.9" stroke="#10a010" stroke-width="0.72" fill="none"/>
<path d="M776.5,426.7h2.6 M776.5,428.0h2.6 M776.5,429.3h2.6 M777.8,426.7v2.6" stroke="#10a010" stroke-width="0.72" fill="none"/>
<path d="M717.4,426.7h2.9 M717.4,428.1h2.9 M718.9,426.7v2.9 M720.3,426.7v2.9 M721.6,426.7h2.9 M721.6,428.1h2.9 M721.6,429.6h2.9 M723.1,426.7v2.9 M725.9,426.7h2.9 M725.9,428.1h2.9 M727.3,426.7v2.9 M728.8,426.7v2.9 M730.1,426.7h2.9 M730.1,428.1h2.9 M731.6,426.7v2.9 M730.1,426.7v2.9" stroke="#22dd22" stroke-width="0.72" fill="none"/>
<path d="M746.3,426.7h2.9 M746.3,428.1h2.9 M747.8,426.7v2.9 M749.2,426.7v2.9 M749.8,426.7h2.9 M749.8,428.1h2.9 M749.8,429.6h2.9 M751.2,426.7v2.9 M753.3,426.7h2.9 M753.3,428.1h2.9 M753.3,429.6h2.9 M754.7,426.7v2.9 M756.8,426.7h2.9 M756.8,428.1h2.9 M756.8,429.6h2.9 M758.2,426.7v2.9 M756.8,426.7v2.9 M759.7,426.7v2.9 M760.2,426.7h2.9 M760.2,428.1h2.9 M760.2,429.6h2.9 M761.7,426.7v2.9 M763.7,426.7h2.9 M763.7,428.1h2.9 M763.7,429.6h2.9 M765.2,426.7v2.9 M767.2,426.7h2.9 M767.2,428.1h2.9 M767.2,429.6h2.9 M768.7,426.7v2.9 M770.7,426.7h2.9 M770.7,428.1h2.9 M770.7,429.6h2.9 M772.2,426.7v2.9 M770.7,426.7v2.9 M773.6,426.7v2.9" stroke="#22dd22" stroke-width="0.72" fill="none"/>
<path d="M782.9,426.7h2.9 M782.9,428.1h2.9 M784.4,426.7v2.9 M785.8,426.7v2.9 M786.6,426.7h2.9 M786.6,428.1h2.9 M786.6,429.6h2.9 M788.1,426.7v2.9 M786.6,426.7v2.9 M789.5,426.7v2.9 M790.4,426.7h2.9 M790.4,428.1h2.9 M790.4,429.6h2.9 M791.8,426.7v2.9 M794.1,426.7h2.9 M794.1,428.1h2.9 M794.1,429.6h2.9 M795.6,426.7v2.9" stroke="#22dd22" stroke-width="0.72" fill="none"/>
<path d="M711.6,431.6h2.9 M711.6,433.1h2.9 M711.6,434.5h2.9 M713.1,431.6v2.9 M711.6,431.6v2.9 M714.5,431.6v2.9" stroke="#10a010" stroke-width="0.72" fill="none"/>
<path d="M776.5,431.6h2.6 M776.5,432.9h2.6 M776.5,434.2h2.6 M777.8,431.6v2.6" stroke="#10a010" stroke-width="0.72" fill="none"/>
<path d="M746.3,431.6h2.9 M746.3,433.1h2.9 M746.3,434.5h2.9 M747.8,431.6v2.9 M750.0,431.6h2.9 M750.0,433.1h2.9 M751.5,431.6v2.9 M752.9,431.6v2.9 M753.7,431.6h2.9 M753.7,433.1h2.9 M753.7,434.5h2.9 M755.1,431.6v2.9 M753.7,431.6v2.9 M756.6,431.6v2.9 M757.4,431.6h2.9 M757.4,433.1h2.9 M758.9,431.6v2.9 M757.4,431.6v2.9 M761.1,431.6h2.9 M761.1,433.1h2.9 M762.6,431.6v2.9 M764.0,431.6v2.9 M764.8,431.6h2.9 M764.8,433.1h2.9 M766.2,431.6v2.9 M764.8,431.6v2.9 M767.7,431.6v2.9 M768.5,431.6h2.9 M768.5,433.1h2.9 M768.5,434.5h2.9 M770.0,431.6v2.9 M772.2,431.6h2.9 M772.2,433.1h2.9 M772.2,434.5h2.9 M773.7,431.6v2.9" stroke="#22dd22" stroke-width="0.72" fill="none"/>
<path d="M711.6,436.5h2.9 M711.6,438.0h2.9 M711.6,439.4h2.9 M713.1,436.5v2.9 M711.6,436.5v2.9 M714.5,436.5v2.9" stroke="#10a010" stroke-width="0.72" fill="none"/>
<path d="M776.5,436.5h2.6 M776.5,437.8h2.6 M776.5,439.1h2.6 M777.8,436.5v2.6" stroke="#10a010" stroke-width="0.72" fill="none"/>
<path d="M746.3,436.5h2.9 M746.3,438.0h2.9 M747.8,436.5v2.9 M746.3,436.5v2.9 M750.7,436.5h2.9 M750.7,438.0h2.9 M750.7,439.4h2.9 M752.1,436.5v2.9 M755.1,436.5h2.9 M755.1,438.0h2.9 M755.1,439.4h2.9 M756.6,436.5v2.9" stroke="#22dd22" stroke-width="0.72" fill="none"/>
<path d="M784.5,436.5h2.9 M784.5,438.0h2.9 M786.0,436.5v2.9 M784.5,436.5v2.9 M788.5,436.5h2.9 M788.5,438.0h2.9 M790.0,436.5v2.9 M788.5,436.5v2.9 M792.5,436.5h2.9 M792.5,438.0h2.9 M794.0,436.5v2.9 M792.5,436.5v2.9" stroke="#22dd22" stroke-width="0.72" fill="none"/>
<path d="M823.5,436.5h2.9 M823.5,438.0h2.9 M825.0,436.5v2.9 M823.5,436.5v2.9 M828.4,436.5h2.9 M828.4,438.0h2.9 M828.4,439.4h2.9 M829.9,436.5v2.9" stroke="#22dd22" stroke-width="0.72" fill="none"/>
<path d="M711.6,441.5h2.9 M711.6,442.9h2.9 M711.6,444.4h2.9 M713.1,441.5v2.9" stroke="#10a010" stroke-width="0.72" fill="none"/>
<path d="M776.5,441.5h2.6 M776.5,442.8h2.6 M777.8,441.5v2.6 M779.1,441.5v2.6" stroke="#10a010" stroke-width="0.72" fill="none"/>
<path d="M717.4,441.5h2.9 M717.4,442.9h2.9 M717.4,444.4h2.9 M718.9,441.5v2.9 M721.2,441.5h2.9 M721.2,442.9h2.9 M722.6,441.5v2.9 M721.2,441.5v2.9 M724.1,441.5v2.9 M725.0,441.5h2.9 M725.0,442.9h2.9 M725.0,444.4h2.9 M726.4,441.5v2.9 M728.7,441.5h2.9 M728.7,442.9h2.9 M730.2,441.5v2.9 M728.7,441.5v2.9 M731.6,441.5v2.9 M732.5,441.5h2.9 M732.5,442.9h2.9 M732.5,444.4h2.9 M734.0,441.5v2.9 M736.3,441.5h2.9 M736.3,442.9h2.9 M737.8,441.5v2.9 M736.3,441.5v2.9" stroke="#22dd22" stroke-width="0.72" fill="none"/>
<path d="M746.3,441.5h2.9 M746.3,442.9h2.9 M747.8,441.5v2.9 M746.3,441.5v2.9 M749.2,441.5v2.9 M750.7,441.5h2.9 M750.7,442.9h2.9 M752.1,441.5v2.9 M753.6,441.5v2.9 M755.1,441.5h2.9 M755.1,442.9h2.9 M755.1,444.4h2.9 M756.6,441.5v2.9 M755.1,441.5v2.9 M758.0,441.5v2.9" stroke="#22dd22" stroke-width="0.72" fill="none"/>
<path d="M784.5,441.5h2.9 M784.5,442.9h2.9 M784.5,444.4h2.9 M786.0,441.5v2.9 M788.5,441.5h2.9 M788.5,442.9h2.9 M790.0,441.5v2.9 M791.4,441.5v2.9 M792.5,441.5h2.9 M792.5,442.9h2.9 M792.5,444.4h2.9 M794.0,441.5v2.9 M792.5,441.5v2.9 M795.4,441.5v2.9" stroke="#22dd22" stroke-width="0.72" fill="none"/>
<path d="M711.6,446.4h2.9 M711.6,447.8h2.9 M711.6,449.3h2.9 M713.1,446.4v2.9" stroke="#10a010" stroke-width="0.72" fill="none"/>
<path d="M776.5,446.4h2.6 M776.5,447.7h2.6 M777.8,446.4v2.6 M779.1,446.4v2.6" stroke="#10a010" stroke-width="0.72" fill="none"/>
<path d="M717.4,446.4h2.9 M717.4,447.8h2.9 M718.9,446.4v2.9 M717.4,446.4v2.9 M720.3,446.4v2.9 M721.2,446.4h2.9 M721.2,447.8h2.9 M721.2,449.3h2.9 M722.6,446.4v2.9 M721.2,446.4v2.9 M724.1,446.4v2.9 M725.0,446.4h2.9 M725.0,447.8h2.9 M725.0,449.3h2.9 M726.4,446.4v2.9 M728.7,446.4h2.9 M728.7,447.8h2.9 M728.7,449.3h2.9 M730.2,446.4v2.9 M728.7,446.4v2.9 M731.6,446.4v2.9 M732.5,446.4h2.9 M732.5,447.8h2.9 M732.5,449.3h2.9 M734.0,446.4v2.9 M736.3,446.4h2.9 M736.3,447.8h2.9 M737.8,446.4v2.9 M736.3,446.4v2.9 M739.2,446.4v2.9" stroke="#22dd22" stroke-width="0.72" fill="none"/>
<path d="M746.3,446.4h2.9 M746.3,447.8h2.9 M746.3,449.3h2.9 M747.8,446.4v2.9 M749.9,446.4h2.9 M749.9,447.8h2.9 M751.4,446.4v2.9 M749.9,446.4v2.9 M752.8,446.4v2.9 M753.5,446.4h2.9 M753.5,447.8h2.9 M753.5,449.3h2.9 M755.0,446.4v2.9 M757.2,446.4h2.9 M757.2,447.8h2.9 M757.2,449.3h2.9 M758.6,446.4v2.9 M757.2,446.4v2.9 M760.1,446.4v2.9 M760.8,446.4h2.9 M760.8,447.8h2.9 M760.8,449.3h2.9 M762.2,446.4v2.9 M764.4,446.4h2.9 M764.4,447.8h2.9 M765.9,446.4v2.9 M767.3,446.4v2.9" stroke="#22dd22" stroke-width="0.72" fill="none"/>
<path d="M784.5,446.4h2.9 M784.5,447.8h2.9 M784.5,449.3h2.9 M786.0,446.4v2.9 M787.7,446.4h2.9 M787.7,447.8h2.9 M789.2,446.4v2.9 M790.6,446.4v2.9 M790.9,446.4h2.9 M790.9,447.8h2.9 M790.9,449.3h2.9 M792.4,446.4v2.9 M790.9,446.4v2.9 M793.8,446.4v2.9 M794.1,446.4h2.9 M794.1,447.8h2.9 M794.1,449.3h2.9 M795.6,446.4v2.9 M794.1,446.4v2.9 M797.0,446.4v2.9" stroke="#22dd22" stroke-width="0.72" fill="none"/>
<path d="M711.6,451.3h2.9 M711.6,452.8h2.9 M711.6,454.2h2.9 M713.1,451.3v2.9 M711.6,451.3v2.9 M714.5,451.3v2.9" stroke="#10a010" stroke-width="0.72" fill="none"/>
<path d="M776.5,451.3h2.6 M776.5,452.6h2.6 M776.5,453.9h2.6 M777.8,451.3v2.6" stroke="#10a010" stroke-width="0.72" fill="none"/>
<path d="M748.6,451.3h2.9 M748.6,452.8h2.9 M750.1,451.3v2.9 M748.6,451.3v2.9 M751.5,451.3v2.9 M752.3,451.3h2.9 M752.3,452.8h2.9 M753.8,451.3v2.9 M755.2,451.3v2.9 M756.0,451.3h2.9 M756.0,452.8h2.9 M756.0,454.2h2.9 M757.5,451.3v2.9 M756.0,451.3v2.9 M758.9,451.3v2.9 M759.7,451.3h2.9 M759.7,452.8h2.9 M761.2,451.3v2.9 M762.6,451.3v2.9" stroke="#22dd22" stroke-width="0.72" fill="none"/>
<path d="M711.6,456.2h2.9 M711.6,457.7h2.9 M713.1,456.2v2.9 M714.5,456.2v2.9" stroke="#10a010" stroke-width="0.72" fill="none"/>
<path d="M776.5,456.2h2.6 M776.5,457.5h2.6 M777.8,456.2v2.6 M776.5,456.2v2.6" stroke="#10a010" stroke-width="0.72" fill="none"/>
<path d="M747.0,456.2h2.9 M747.0,457.7h2.9 M748.5,456.2v2.9 M747.0,456.2v2.9 M749.9,456.2v2.9 M750.2,456.2h2.9 M750.2,457.7h2.9 M751.7,456.2v2.9 M753.1,456.2v2.9 M753.4,456.2h2.9 M753.4,457.7h2.9 M754.9,456.2v2.9 M756.3,456.2v2.9 M756.6,456.2h2.9 M756.6,457.7h2.9 M756.6,459.1h2.9 M758.1,456.2v2.9 M756.6,456.2v2.9 M759.5,456.2v2.9" stroke="#22dd22" stroke-width="0.72" fill="none"/>
<path d="M782.9,456.2h2.9 M782.9,457.7h2.9 M784.4,456.2v2.9 M782.9,456.2v2.9 M786.6,456.2h2.9 M786.6,457.7h2.9 M786.6,459.1h2.9 M788.1,456.2v2.9 M790.4,456.2h2.9 M790.4,457.7h2.9 M791.8,456.2v2.9 M790.4,456.2v2.9 M793.3,456.2v2.9 M794.1,456.2h2.9 M794.1,457.7h2.9 M794.1,459.1h2.9 M795.6,456.2v2.9" stroke="#22dd22" stroke-width="0.72" fill="none"/>
<path d="M711.6,461.1h2.9 M711.6,462.6h2.9 M711.6,464.0h2.9 M713.1,461.1v2.9" stroke="#10a010" stroke-width="0.72" fill="none"/>
<path d="M776.5,461.1h2.6 M776.5,462.4h2.6 M776.5,463.7h2.6 M777.8,461.1v2.6" stroke="#10a010" stroke-width="0.72" fill="none"/>
<path d="M747.0,461.1h2.9 M747.0,462.6h2.9 M748.5,461.1v2.9 M747.0,461.1v2.9 M750.2,461.1h2.9 M750.2,462.6h2.9 M750.2,464.0h2.9 M751.7,461.1v2.9 M753.4,461.1h2.9 M753.4,462.6h2.9 M754.9,461.1v2.9 M756.3,461.1v2.9 M756.6,461.1h2.9 M756.6,462.6h2.9 M758.1,461.1v2.9 M756.6,461.1v2.9 M759.5,461.1v2.9" stroke="#22dd22" stroke-width="0.72" fill="none"/>
<path d="M782.9,461.1h2.9 M782.9,462.6h2.9 M782.9,464.0h2.9 M784.4,461.1v2.9 M782.9,461.1v2.9 M785.8,461.1v2.9 M786.6,461.1h2.9 M786.6,462.6h2.9 M786.6,464.0h2.9 M788.1,461.1v2.9 M790.4,461.1h2.9 M790.4,462.6h2.9 M791.8,461.1v2.9 M790.4,461.1v2.9 M794.1,461.1h2.9 M794.1,462.6h2.9 M795.6,461.1v2.9 M794.1,461.1v2.9 M797.0,461.1v2.9" stroke="#22dd22" stroke-width="0.72" fill="none"/>
<path d="M711.6,466.1h2.9 M711.6,467.5h2.9 M711.6,469.0h2.9 M713.1,466.1v2.9" stroke="#10a010" stroke-width="0.72" fill="none"/>
<path d="M776.5,466.1h2.6 M776.5,467.4h2.6 M776.5,468.7h2.6 M777.8,466.1v2.6" stroke="#10a010" stroke-width="0.72" fill="none"/>
<path d="M747.0,466.1h2.9 M747.0,467.5h2.9 M747.0,469.0h2.9 M748.5,466.1v2.9 M750.4,466.1h2.9 M750.4,467.5h2.9 M751.9,466.1v2.9 M753.3,466.1v2.9" stroke="#22dd22" stroke-width="0.72" fill="none"/>
<path d="M784.5,466.1h2.9 M784.5,467.5h2.9 M784.5,469.0h2.9 M786.0,466.1v2.9 M788.1,466.1h2.9 M788.1,467.5h2.9 M789.5,466.1v2.9 M791.0,466.1v2.9 M791.6,466.1h2.9 M791.6,467.5h2.9 M793.1,466.1v2.9 M791.6,466.1v2.9 M795.2,466.1h2.9 M795.2,467.5h2.9 M796.7,466.1v2.9 M798.1,466.1v2.9 M798.8,466.1h2.9 M798.8,467.5h2.9 M798.8,469.0h2.9 M800.3,466.1v2.9" stroke="#22dd22" stroke-width="0.72" fill="none"/>
<path d="M711.6,471.0h2.9 M711.6,472.4h2.9 M713.1,471.0v2.9 M714.5,471.0v2.9" stroke="#10a010" stroke-width="0.72" fill="none"/>
<path d="M776.5,471.0h2.6 M776.5,472.3h2.6 M777.8,471.0v2.6 M776.5,471.0v2.6" stroke="#10a010" stroke-width="0.72" fill="none"/>
<path d="M747.0,471.0h2.9 M747.0,472.4h2.9 M747.0,473.9h2.9 M748.5,471.0v2.9 M747.0,471.0v2.9 M749.9,471.0v2.9 M751.2,471.0h2.9 M751.2,472.4h2.9 M751.2,473.9h2.9 M752.7,471.0v2.9 M751.2,471.0v2.9 M754.1,471.0v2.9 M755.5,471.0h2.9 M755.5,472.4h2.9 M755.5,473.9h2.9 M756.9,471.0v2.9 M759.7,471.0h2.9 M759.7,472.4h2.9 M761.2,471.0v2.9 M759.7,471.0v2.9" stroke="#22dd22" stroke-width="0.72" fill="none"/>
<path d="M784.5,471.0h2.9 M784.5,472.4h2.9 M786.0,471.0v2.9 M784.5,471.0v2.9 M787.4,471.0v2.9 M787.7,471.0h2.9 M787.7,472.4h2.9 M787.7,473.9h2.9 M789.2,471.0v2.9 M790.9,471.0h2.9 M790.9,472.4h2.9 M792.4,471.0v2.9 M790.9,471.0v2.9 M793.8,471.0v2.9 M794.1,471.0h2.9 M794.1,472.4h2.9 M794.1,473.9h2.9 M795.6,471.0v2.9" stroke="#22dd22" stroke-width="0.72" fill="none"/>
<path d="M825.1,471.0h2.9 M825.1,472.4h2.9 M826.6,471.0v2.9 M825.1,471.0v2.9 M828.0,471.0v2.9 M830.0,471.0h2.9 M830.0,472.4h2.9 M830.0,473.9h2.9 M831.5,471.0v2.9" stroke="#22dd22" stroke-width="0.72" fill="none"/>
<path d="M711.6,475.9h2.9 M711.6,477.3h2.9 M713.1,475.9v2.9 M711.6,475.9v2.9" stroke="#10a010" stroke-width="0.72" fill="none"/>
<path d="M776.5,475.9h2.6 M776.5,477.2h2.6 M777.8,475.9v2.6 M776.5,475.9v2.6 M779.1,475.9v2.6" stroke="#10a010" stroke-width="0.72" fill="none"/>
<path d="M747.0,475.9h2.9 M747.0,477.3h2.9 M748.5,475.9v2.9 M749.9,475.9v2.9 M751.9,475.9h2.9 M751.9,477.3h2.9 M753.4,475.9v2.9 M751.9,475.9v2.9" stroke="#22dd22" stroke-width="0.72" fill="none"/>
<path d="M784.5,475.9h2.9 M784.5,477.3h2.9 M786.0,475.9v2.9 M787.4,475.9v2.9 M787.7,475.9h2.9 M787.7,477.3h2.9 M789.2,475.9v2.9 M787.7,475.9v2.9 M790.9,475.9h2.9 M790.9,477.3h2.9 M792.4,475.9v2.9 M790.9,475.9v2.9 M793.8,475.9v2.9 M794.1,475.9h2.9 M794.1,477.3h2.9 M794.1,478.8h2.9 M795.6,475.9v2.9" stroke="#22dd22" stroke-width="0.72" fill="none"/>
<path d="M711.6,480.8h2.9 M711.6,482.3h2.9 M711.6,483.7h2.9 M713.1,480.8v2.9" stroke="#10a010" stroke-width="0.72" fill="none"/>
<path d="M776.5,480.8h2.6 M776.5,482.1h2.6 M777.8,480.8v2.6 M776.5,480.8v2.6 M779.1,480.8v2.6" stroke="#10a010" stroke-width="0.72" fill="none"/>
<path d="M747.0,480.8h2.9 M747.0,482.3h2.9 M748.5,480.8v2.9 M747.0,480.8v2.9 M750.5,480.8h2.9 M750.5,482.3h2.9 M751.9,480.8v2.9 M750.5,480.8v2.9 M754.0,480.8h2.9 M754.0,482.3h2.9 M755.4,480.8v2.9 M754.0,480.8v2.9 M757.4,480.8h2.9 M757.4,482.3h2.9 M758.9,480.8v2.9 M757.4,480.8v2.9 M760.3,480.8v2.9 M760.9,480.8h2.9 M760.9,482.3h2.9 M760.9,483.7h2.9 M762.4,480.8v2.9 M764.4,480.8h2.9 M764.4,482.3h2.9 M765.9,480.8v2.9 M764.4,480.8v2.9 M767.3,480.8v2.9" stroke="#22dd22" stroke-width="0.72" fill="none"/>
<path d="M711.6,485.7h2.9 M711.6,487.2h2.9 M713.1,485.7v2.9 M714.5,485.7v2.9" stroke="#10a010" stroke-width="0.72" fill="none"/>
<path d="M776.5,485.7h2.6 M776.5,487.0h2.6 M777.8,485.7v2.6 M779.1,485.7v2.6" stroke="#10a010" stroke-width="0.72" fill="none"/>
<path d="M716.5,485.7h2.9 M716.5,487.2h2.9 M718.0,485.7v2.9 M719.4,485.7v2.9 M720.5,485.7h2.9 M720.5,487.2h2.9 M720.5,488.6h2.9 M721.9,485.7v2.9 M724.4,485.7h2.9 M724.4,487.2h2.9 M725.9,485.7v2.9 M727.3,485.7v2.9 M728.4,485.7h2.9 M728.4,487.2h2.9 M728.4,488.6h2.9 M729.8,485.7v2.9 M728.4,485.7v2.9 M731.3,485.7v2.9 M732.3,485.7h2.9 M732.3,487.2h2.9 M733.8,485.7v2.9 M732.3,485.7v2.9 M736.3,485.7h2.9 M736.3,487.2h2.9 M737.8,485.7v2.9 M736.3,485.7v2.9 M739.2,485.7v2.9" stroke="#22dd22" stroke-width="0.72" fill="none"/>
<path d="M747.0,485.7h2.9 M747.0,487.2h2.9 M748.5,485.7v2.9 M749.9,485.7v2.9 M750.7,485.7h2.9 M750.7,487.2h2.9 M750.7,488.6h2.9 M752.2,485.7v2.9 M750.7,485.7v2.9 M753.6,485.7v2.9 M754.4,485.7h2.9 M754.4,487.2h2.9 M754.4,488.6h2.9 M755.9,485.7v2.9 M754.4,485.7v2.9 M757.3,485.7v2.9 M758.1,485.7h2.9 M758.1,487.2h2.9 M759.6,485.7v2.9 M758.1,485.7v2.9" stroke="#22dd22" stroke-width="0.72" fill="none"/>
<path d="M784.5,485.7h2.9 M784.5,487.2h2.9 M786.0,485.7v2.9 M784.5,485.7v2.9 M787.4,485.7v2.9 M787.7,485.7h2.9 M787.7,487.2h2.9 M787.7,488.6h2.9 M789.2,485.7v2.9 M790.9,485.7h2.9 M790.9,487.2h2.9 M792.4,485.7v2.9 M793.8,485.7v2.9 M794.1,485.7h2.9 M794.1,487.2h2.9 M794.1,488.6h2.9 M795.6,485.7v2.9 M794.1,485.7v2.9 M797.0,485.7v2.9" stroke="#22dd22" stroke-width="0.72" fill="none"/>
<path d="M711.6,490.7h2.9 M711.6,492.1h2.9 M711.6,493.6h2.9 M713.1,490.7v2.9 M711.6,490.7v2.9 M714.5,490.7v2.9" stroke="#10a010" stroke-width="0.72" fill="none"/>
<path d="M776.5,490.7h2.6 M776.5,492.0h2.6 M777.8,490.7v2.6 M779.1,490.7v2.6" stroke="#10a010" stroke-width="0.72" fill="none"/>
<path d="M716.5,490.7h2.9 M716.5,492.1h2.9 M716.5,493.6h2.9 M718.0,490.7v2.9 M720.5,490.7h2.9 M720.5,492.1h2.9 M720.5,493.6h2.9 M721.9,490.7v2.9 M724.4,490.7h2.9 M724.4,492.1h2.9 M725.9,490.7v2.9 M724.4,490.7v2.9 M727.3,490.7v2.9 M728.4,490.7h2.9 M728.4,492.1h2.9 M729.8,490.7v2.9 M728.4,490.7v2.9 M731.3,490.7v2.9 M732.3,490.7h2.9 M732.3,492.1h2.9 M732.3,493.6h2.9 M733.8,490.7v2.9 M736.3,490.7h2.9 M736.3,492.1h2.9 M736.3,493.6h2.9 M737.8,490.7v2.9 M736.3,490.7v2.9 M739.2,490.7v2.9" stroke="#22dd22" stroke-width="0.72" fill="none"/>
<path d="M747.0,490.7h2.9 M747.0,492.1h2.9 M748.5,490.7v2.9 M747.0,490.7v2.9 M749.9,490.7v2.9 M750.2,490.7h2.9 M750.2,492.1h2.9 M751.7,490.7v2.9 M753.1,490.7v2.9 M753.4,490.7h2.9 M753.4,492.1h2.9 M754.9,490.7v2.9 M753.4,490.7v2.9 M756.6,490.7h2.9 M756.6,492.1h2.9 M758.1,490.7v2.9 M759.5,490.7v2.9" stroke="#22dd22" stroke-width="0.72" fill="none"/>
<path d="M784.5,490.7h2.9 M784.5,492.1h2.9 M786.0,490.7v2.9 M787.4,490.7v2.9 M787.7,490.7h2.9 M787.7,492.1h2.9 M787.7,493.6h2.9 M789.2,490.7v2.9 M790.9,490.7h2.9 M790.9,492.1h2.9 M790.9,493.6h2.9 M792.4,490.7v2.9 M794.1,490.7h2.9 M794.1,492.1h2.9 M795.6,490.7v2.9 M797.0,490.7v2.9" stroke="#22dd22" stroke-width="0.72" fill="none"/>
<path d="M711.6,495.6h2.9 M711.6,497.0h2.9 M711.6,498.5h2.9 M713.1,495.6v2.9" stroke="#10a010" stroke-width="0.72" fill="none"/>
<path d="M776.5,495.6h2.6 M776.5,496.9h2.6 M776.5,498.2h2.6 M777.8,495.6v2.6 M776.5,495.6v2.6 M779.1,495.6v2.6" stroke="#10a010" stroke-width="0.72" fill="none"/>
<path d="M716.5,495.6h2.9 M716.5,497.0h2.9 M718.0,495.6v2.9 M719.4,495.6v2.9 M720.5,495.6h2.9 M720.5,497.0h2.9 M720.5,498.5h2.9 M721.9,495.6v2.9 M720.5,495.6v2.9 M723.4,495.6v2.9 M724.4,495.6h2.9 M724.4,497.0h2.9 M724.4,498.5h2.9 M725.9,495.6v2.9 M728.4,495.6h2.9 M728.4,497.0h2.9 M728.4,498.5h2.9 M729.8,495.6v2.9 M732.3,495.6h2.9 M732.3,497.0h2.9 M732.3,498.5h2.9 M733.8,495.6v2.9 M732.3,495.6v2.9 M735.2,495.6v2.9 M736.3,495.6h2.9 M736.3,497.0h2.9 M737.8,495.6v2.9 M736.3,495.6v2.9" stroke="#22dd22" stroke-width="0.72" fill="none"/>
<path d="M747.0,495.6h2.9 M747.0,497.0h2.9 M748.5,495.6v2.9 M749.9,495.6v2.9 M750.4,495.6h2.9 M750.4,497.0h2.9 M750.4,498.5h2.9 M751.8,495.6v2.9 M753.8,495.6h2.9 M753.8,497.0h2.9 M755.2,495.6v2.9 M753.8,495.6v2.9 M756.7,495.6v2.9 M757.2,495.6h2.9 M757.2,497.0h2.9 M757.2,498.5h2.9 M758.6,495.6v2.9 M760.5,495.6h2.9 M760.5,497.0h2.9 M762.0,495.6v2.9 M760.5,495.6v2.9 M763.9,495.6h2.9 M763.9,497.0h2.9 M765.4,495.6v2.9 M763.9,495.6v2.9 M766.8,495.6v2.9 M767.3,495.6h2.9 M767.3,497.0h2.9 M767.3,498.5h2.9 M768.8,495.6v2.9 M767.3,495.6v2.9 M770.2,495.6v2.9 M770.7,495.6h2.9 M770.7,497.0h2.9 M770.7,498.5h2.9 M772.2,495.6v2.9 M770.7,495.6v2.9 M773.6,495.6v2.9" stroke="#22dd22" stroke-width="0.72" fill="none"/>
<path d="M784.5,495.6h2.9 M784.5,497.0h2.9 M786.0,495.6v2.9 M784.5,495.6v2.9 M788.2,495.6h2.9 M788.2,497.0h2.9 M788.2,498.5h2.9 M789.7,495.6v2.9 M788.2,495.6v2.9 M791.1,495.6v2.9 M792.0,495.6h2.9 M792.0,497.0h2.9 M793.4,495.6v2.9 M794.9,495.6v2.9 M795.7,495.6h2.9 M795.7,497.0h2.9 M795.7,498.5h2.9 M797.2,495.6v2.9 M795.7,495.6v2.9 M798.6,495.6v2.9" stroke="#22dd22" stroke-width="0.72" fill="none"/>
<path d="M825.1,495.6h2.9 M825.1,497.0h2.9 M826.6,495.6v2.9 M828.0,495.6v2.9 M829.1,495.6h2.9 M829.1,497.0h2.9 M829.1,498.5h2.9 M830.6,495.6v2.9 M829.1,495.6v2.9 M832.0,495.6v2.9 M833.1,495.6h2.9 M833.1,497.0h2.9 M833.1,498.5h2.9 M834.6,495.6v2.9 M833.1,495.6v2.9 M836.0,495.6v2.9" stroke="#22dd22" stroke-width="0.72" fill="none"/>
<path d="M711.6,500.5h2.9 M711.6,501.9h2.9 M711.6,503.4h2.9 M713.1,500.5v2.9" stroke="#10a010" stroke-width="0.72" fill="none"/>
<path d="M776.5,500.5h2.6 M776.5,501.8h2.6 M777.8,500.5v2.6 M776.5,500.5v2.6" stroke="#10a010" stroke-width="0.72" fill="none"/>
<path d="M747.0,500.5h2.9 M747.0,501.9h2.9 M748.5,500.5v2.9 M749.9,500.5v2.9 M750.2,500.5h2.9 M750.2,501.9h2.9 M750.2,503.4h2.9 M751.7,500.5v2.9 M750.2,500.5v2.9 M753.1,500.5v2.9 M753.4,500.5h2.9 M753.4,501.9h2.9 M753.4,503.4h2.9 M754.9,500.5v2.9 M756.6,500.5h2.9 M756.6,501.9h2.9 M758.1,500.5v2.9 M759.5,500.5v2.9" stroke="#22dd22" stroke-width="0.72" fill="none"/>
<path d="M784.5,500.5h2.9 M784.5,501.9h2.9 M786.0,500.5v2.9 M787.4,500.5v2.9 M788.5,500.5h2.9 M788.5,501.9h2.9 M790.0,500.5v2.9 M791.4,500.5v2.9 M792.5,500.5h2.9 M792.5,501.9h2.9 M794.0,500.5v2.9 M792.5,500.5v2.9" stroke="#22dd22" stroke-width="0.72" fill="none"/>
<path d="M711.6,505.4h2.9 M711.6,506.9h2.9 M711.6,508.3h2.9 M713.1,505.4v2.9 M711.6,505.4v2.9 M714.5,505.4v2.9" stroke="#10a010" stroke-width="0.72" fill="none"/>
<path d="M776.5,505.4h2.6 M776.5,506.7h2.6 M777.8,505.4v2.6 M776.5,505.4v2.6 M779.1,505.4v2.6" stroke="#10a010" stroke-width="0.72" fill="none"/>
<path d="M716.5,505.4h2.9 M716.5,506.9h2.9 M716.5,508.3h2.9 M718.0,505.4v2.9 M720.5,505.4h2.9 M720.5,506.9h2.9 M720.5,508.3h2.9 M721.9,505.4v2.9 M720.5,505.4v2.9 M723.4,505.4v2.9 M724.4,505.4h2.9 M724.4,506.9h2.9 M724.4,508.3h2.9 M725.9,505.4v2.9 M728.4,505.4h2.9 M728.4,506.9h2.9 M728.4,508.3h2.9 M729.8,505.4v2.9 M732.3,505.4h2.9 M732.3,506.9h2.9 M733.8,505.4v2.9 M732.3,505.4v2.9 M735.2,505.4v2.9 M736.3,505.4h2.9 M736.3,506.9h2.9 M736.3,508.3h2.9 M737.8,505.4v2.9 M736.3,505.4v2.9 M739.2,505.4v2.9" stroke="#22dd22" stroke-width="0.72" fill="none"/>
<path d="M747.0,505.4h2.9 M747.0,506.9h2.9 M747.0,508.3h2.9 M748.5,505.4v2.9 M747.0,505.4v2.9 M749.9,505.4v2.9 M751.0,505.4h2.9 M751.0,506.9h2.9 M751.0,508.3h2.9 M752.4,505.4v2.9 M751.0,505.4v2.9 M753.9,505.4v2.9 M754.9,505.4h2.9 M754.9,506.9h2.9 M756.4,505.4v2.9 M754.9,505.4v2.9 M758.9,505.4h2.9 M758.9,506.9h2.9 M758.9,508.3h2.9 M760.4,505.4v2.9 M762.9,505.4h2.9 M762.9,506.9h2.9 M762.9,508.3h2.9 M764.4,505.4v2.9 M762.9,505.4v2.9 M765.8,505.4v2.9" stroke="#22dd22" stroke-width="0.72" fill="none"/>
<path d="M784.5,505.4h2.9 M784.5,506.9h2.9 M784.5,508.3h2.9 M786.0,505.4v2.9 M787.7,505.4h2.9 M787.7,506.9h2.9 M789.2,505.4v2.9 M790.6,505.4v2.9 M790.9,505.4h2.9 M790.9,506.9h2.9 M792.4,505.4v2.9 M793.8,505.4v2.9 M794.1,505.4h2.9 M794.1,506.9h2.9 M794.1,508.3h2.9 M795.6,505.4v2.9" stroke="#22dd22" stroke-width="0.72" fill="none"/>
<path d="M825.1,505.4h2.9 M825.1,506.9h2.9 M825.1,508.3h2.9 M826.6,505.4v2.9" stroke="#22dd22" stroke-width="0.72" fill="none"/>
<path d="M711.6,510.3h2.9 M711.6,511.8h2.9 M711.6,513.2h2.9 M713.1,510.3v2.9" stroke="#10a010" stroke-width="0.72" fill="none"/>
<path d="M776.5,510.3h2.6 M776.5,511.6h2.6 M776.5,512.9h2.6 M777.8,510.3v2.6 M776.5,510.3v2.6 M779.1,510.3v2.6" stroke="#10a010" stroke-width="0.72" fill="none"/>
<path d="M716.5,510.3h2.9 M716.5,511.8h2.9 M718.0,510.3v2.9 M716.5,510.3v2.9 M720.5,510.3h2.9 M720.5,511.8h2.9 M720.5,513.2h2.9 M721.9,510.3v2.9 M720.5,510.3v2.9 M723.4,510.3v2.9 M724.4,510.3h2.9 M724.4,511.8h2.9 M724.4,513.2h2.9 M725.9,510.3v2.9 M728.4,510.3h2.9 M728.4,511.8h2.9 M728.4,513.2h2.9 M729.8,510.3v2.9 M732.3,510.3h2.9 M732.3,511.8h2.9 M733.8,510.3v2.9 M732.3,510.3v2.9 M736.3,510.3h2.9 M736.3,511.8h2.9 M736.3,513.2h2.9 M737.8,510.3v2.9" stroke="#22dd22" stroke-width="0.72" fill="none"/>
<path d="M747.0,510.3h2.9 M747.0,511.8h2.9 M747.0,513.2h2.9 M748.5,510.3v2.9 M747.0,510.3v2.9 M749.9,510.3v2.9 M750.2,510.3h2.9 M750.2,511.8h2.9 M750.2,513.2h2.9 M751.7,510.3v2.9 M750.2,510.3v2.9 M753.1,510.3v2.9 M753.5,510.3h2.9 M753.5,511.8h2.9 M753.5,513.2h2.9 M755.0,510.3v2.9 M753.5,510.3v2.9 M756.4,510.3v2.9" stroke="#22dd22" stroke-width="0.72" fill="none"/>
<path d="M784.5,510.3h2.9 M784.5,511.8h2.9 M784.5,513.2h2.9 M786.0,510.3v2.9 M784.5,510.3v2.9 M787.4,510.3v2.9 M787.7,510.3h2.9 M787.7,511.8h2.9 M789.2,510.3v2.9 M790.6,510.3v2.9 M790.9,510.3h2.9 M790.9,511.8h2.9 M792.4,510.3v2.9 M790.9,510.3v2.9 M793.8,510.3v2.9 M794.1,510.3h2.9 M794.1,511.8h2.9 M794.1,513.2h2.9 M795.6,510.3v2.9" stroke="#22dd22" stroke-width="0.72" fill="none"/>
<path d="M711.6,515.3h2.9 M711.6,516.7h2.9 M713.1,515.3v2.9 M711.6,515.3v2.9" stroke="#10a010" stroke-width="0.72" fill="none"/>
<path d="M776.5,515.3h2.6 M776.5,516.6h2.6 M776.5,517.9h2.6 M777.8,515.3v2.6 M776.5,515.3v2.6 M779.1,515.3v2.6" stroke="#10a010" stroke-width="0.72" fill="none"/>
<path d="M747.0,515.3h2.9 M747.0,516.7h2.9 M747.0,518.2h2.9 M748.5,515.3v2.9 M747.0,515.3v2.9 M749.9,515.3v2.9 M751.2,515.3h2.9 M751.2,516.7h2.9 M752.7,515.3v2.9 M751.2,515.3v2.9 M755.5,515.3h2.9 M755.5,516.7h2.9 M755.5,518.2h2.9 M756.9,515.3v2.9 M755.5,515.3v2.9 M758.4,515.3v2.9 M759.7,515.3h2.9 M759.7,516.7h2.9 M761.2,515.3v2.9 M762.6,515.3v2.9" stroke="#22dd22" stroke-width="0.72" fill="none"/>
<path d="M784.5,515.3h2.9 M784.5,516.7h2.9 M786.0,515.3v2.9 M784.5,515.3v2.9 M787.4,515.3v2.9 M787.7,515.3h2.9 M787.7,516.7h2.9 M787.7,518.2h2.9 M789.2,515.3v2.9 M787.7,515.3v2.9 M790.6,515.3v2.9 M790.9,515.3h2.9 M790.9,516.7h2.9 M790.9,518.2h2.9 M792.4,515.3v2.9 M794.1,515.3h2.9 M794.1,516.7h2.9 M794.1,518.2h2.9 M795.6,515.3v2.9 M794.1,515.3v2.9 M797.0,515.3v2.9" stroke="#22dd22" stroke-width="0.72" fill="none"/>
<path d="M711.6,520.2h2.9 M711.6,521.6h2.9 M713.1,520.2v2.9 M714.5,520.2v2.9" stroke="#10a010" stroke-width="0.72" fill="none"/>
<path d="M776.5,520.2h2.6 M776.5,521.5h2.6 M777.8,520.2v2.6 M776.5,520.2v2.6" stroke="#10a010" stroke-width="0.72" fill="none"/>
<path d="M747.0,520.2h2.9 M747.0,521.6h2.9 M748.5,520.2v2.9 M749.9,520.2v2.9 M750.2,520.2h2.9 M750.2,521.6h2.9 M751.7,520.2v2.9 M750.2,520.2v2.9 M753.4,520.2h2.9 M753.4,521.6h2.9 M753.4,523.1h2.9 M754.9,520.2v2.9 M756.6,520.2h2.9 M756.6,521.6h2.9 M758.1,520.2v2.9 M756.6,520.2v2.9" stroke="#22dd22" stroke-width="0.72" fill="none"/>
<path d="M784.5,520.2h2.9 M784.5,521.6h2.9 M786.0,520.2v2.9 M784.5,520.2v2.9 M787.7,520.2h2.9 M787.7,521.6h2.9 M787.7,523.1h2.9 M789.2,520.2v2.9 M790.9,520.2h2.9 M790.9,521.6h2.9 M790.9,523.1h2.9 M792.4,520.2v2.9 M794.1,520.2h2.9 M794.1,521.6h2.9 M795.6,520.2v2.9 M794.1,520.2v2.9 M797.0,520.2v2.9" stroke="#22dd22" stroke-width="0.72" fill="none"/>
<path d="M711.6,525.1h2.9 M711.6,526.6h2.9 M713.1,525.1v2.9 M714.5,525.1v2.9" stroke="#10a010" stroke-width="0.72" fill="none"/>
<path d="M776.5,525.1h2.6 M776.5,526.4h2.6 M777.8,525.1v2.6 M776.5,525.1v2.6" stroke="#10a010" stroke-width="0.72" fill="none"/>
<path d="M747.0,525.1h2.9 M747.0,526.6h2.9 M747.0,528.0h2.9 M748.5,525.1v2.9 M750.4,525.1h2.9 M750.4,526.6h2.9 M751.8,525.1v2.9 M753.3,525.1v2.9 M753.8,525.1h2.9 M753.8,526.6h2.9 M755.2,525.1v2.9 M753.8,525.1v2.9 M756.7,525.1v2.9 M757.2,525.1h2.9 M757.2,526.6h2.9 M757.2,528.0h2.9 M758.6,525.1v2.9 M760.5,525.1h2.9 M760.5,526.6h2.9 M760.5,528.0h2.9 M762.0,525.1v2.9 M763.9,525.1h2.9 M763.9,526.6h2.9 M765.4,525.1v2.9 M766.8,525.1v2.9 M767.3,525.1h2.9 M767.3,526.6h2.9 M768.8,525.1v2.9 M767.3,525.1v2.9 M770.2,525.1v2.9 M770.7,525.1h2.9 M770.7,526.6h2.9 M772.2,525.1v2.9 M770.7,525.1v2.9 M773.6,525.1v2.9" stroke="#22dd22" stroke-width="0.72" fill="none"/>
<path d="M784.5,525.1h2.9 M784.5,526.6h2.9 M786.0,525.1v2.9 M784.5,525.1v2.9 M787.4,525.1v2.9 M787.7,525.1h2.9 M787.7,526.6h2.9 M787.7,528.0h2.9 M789.2,525.1v2.9 M790.9,525.1h2.9 M790.9,526.6h2.9 M792.4,525.1v2.9 M793.8,525.1v2.9 M794.1,525.1h2.9 M794.1,526.6h2.9 M794.1,528.0h2.9 M795.6,525.1v2.9" stroke="#22dd22" stroke-width="0.72" fill="none"/>
<path d="M711.6,530.0h2.9 M711.6,531.5h2.9 M713.1,530.0v2.9 M714.5,530.0v2.9" stroke="#10a010" stroke-width="0.72" fill="none"/>
<path d="M776.5,530.0h2.6 M776.5,531.3h2.6 M777.8,530.0v2.6 M776.5,530.0v2.6" stroke="#10a010" stroke-width="0.72" fill="none"/>
<path d="M750.2,530.0h2.9 M750.2,531.5h2.9 M751.7,530.0v2.9 M753.1,530.0v2.9 M755.1,530.0h2.9 M755.1,531.5h2.9 M756.6,530.0v2.9 M755.1,530.0v2.9 M758.0,530.0v2.9" stroke="#22dd22" stroke-width="0.72" fill="none"/>
<path d="M784.5,530.0h2.9 M784.5,531.5h2.9 M784.5,532.9h2.9 M786.0,530.0v2.9 M787.8,530.0h2.9 M787.8,531.5h2.9 M789.3,530.0v2.9 M787.8,530.0v2.9" stroke="#22dd22" stroke-width="0.72" fill="none"/>
<path d="M711.6,534.9h2.9 M711.6,536.4h2.9 M713.1,534.9v2.9 M711.6,534.9v2.9" stroke="#10a010" stroke-width="0.72" fill="none"/>
<path d="M776.5,534.9h2.6 M776.5,536.2h2.6 M777.8,534.9v2.6 M779.1,534.9v2.6" stroke="#10a010" stroke-width="0.72" fill="none"/>
<path d="M750.2,534.9h2.9 M750.2,536.4h2.9 M751.7,534.9v2.9 M750.2,534.9v2.9 M753.1,534.9v2.9 M753.4,534.9h2.9 M753.4,536.4h2.9 M754.9,534.9v2.9 M756.3,534.9v2.9 M756.6,534.9h2.9 M756.6,536.4h2.9 M758.1,534.9v2.9 M759.5,534.9v2.9" stroke="#22dd22" stroke-width="0.72" fill="none"/>
<path d="M784.5,534.9h2.9 M784.5,536.4h2.9 M786.0,534.9v2.9 M784.5,534.9v2.9 M787.4,534.9v2.9 M788.1,534.9h2.9 M788.1,536.4h2.9 M789.5,534.9v2.9 M788.1,534.9v2.9 M791.6,534.9h2.9 M791.6,536.4h2.9 M791.6,537.8h2.9 M793.1,534.9v2.9 M791.6,534.9v2.9 M794.5,534.9v2.9 M795.2,534.9h2.9 M795.2,536.4h2.9 M796.7,534.9v2.9 M795.2,534.9v2.9 M798.8,534.9h2.9 M798.8,536.4h2.9 M798.8,537.8h2.9 M800.3,534.9v2.9" stroke="#22dd22" stroke-width="0.72" fill="none"/>
<path d="M711.6,539.9h2.9 M711.6,541.3h2.9 M713.1,539.9v2.9 M711.6,539.9v2.9" stroke="#10a010" stroke-width="0.72" fill="none"/>
<path d="M776.5,539.9h2.6 M776.5,541.2h2.6 M777.8,539.9v2.6 M779.1,539.9v2.6" stroke="#10a010" stroke-width="0.72" fill="none"/>
<path d="M750.2,539.9h2.9 M750.2,541.3h2.9 M750.2,542.8h2.9 M751.7,539.9v2.9 M755.1,539.9h2.9 M755.1,541.3h2.9 M755.1,542.8h2.9 M756.6,539.9v2.9" stroke="#22dd22" stroke-width="0.72" fill="none"/>
<path d="M784.5,539.9h2.9 M784.5,541.3h2.9 M784.5,542.8h2.9 M786.0,539.9v2.9" stroke="#22dd22" stroke-width="0.72" fill="none"/>
<path d="M721.0,546.0h3.5 M721.0,547.8h3.5 M722.8,546.0v3.5 M721.0,546.0v3.5 M724.5,546.0v3.5" stroke="#18cc18" stroke-width="0.72" fill="none"/>
<path d="M733.0,546.0h3.5 M733.0,547.8h3.5 M733.0,549.5h3.5 M734.8,546.0v3.5" stroke="#18cc18" stroke-width="0.72" fill="none"/>
<path d="M752.0,546.0h3.5 M752.0,547.8h3.5 M752.0,549.5h3.5 M753.8,546.0v3.5" stroke="#18cc18" stroke-width="0.72" fill="none"/>
<path d="M763.0,546.0h3.5 M763.0,547.8h3.5 M763.0,549.5h3.5 M764.8,546.0v3.5" stroke="#18cc18" stroke-width="0.72" fill="none"/>
<path d="M787.0,546.0h3.5 M787.0,547.8h3.5 M787.0,549.5h3.5 M788.8,546.0v3.5 M787.0,546.0v3.5 M790.5,546.0v3.5" stroke="#18cc18" stroke-width="0.72" fill="none"/>
<path d="M798.0,546.0h3.5 M798.0,547.8h3.5 M799.8,546.0v3.5 M798.0,546.0v3.5" stroke="#18cc18" stroke-width="0.72" fill="none"/>
<path d="M826.0,546.0h3.5 M826.0,547.8h3.5 M827.8,546.0v3.5 M826.0,546.0v3.5 M830.6,546.0h3.5 M830.6,547.8h3.5 M832.4,546.0v3.5 M830.6,546.0v3.5 M834.1,546.0v3.5" stroke="#18cc18" stroke-width="0.72" fill="none"/>
<path d="M811.0,549.0h3.0 M811.0,550.5h3.0 M811.0,552.0h3.0 M812.5,549.0v3.0 M815.1,549.0h3.0 M815.1,550.5h3.0 M816.6,549.0v3.0 M815.1,549.0v3.0" stroke="#18cc18" stroke-width="0.72" fill="none"/>
<line x1="710.5" y1="553.0" x2="836.5" y2="553.0" stroke="#ffffff" stroke-width="1.2" />
<line x1="710.6" y1="553.0" x2="710.6" y2="592.0" stroke="#dddddd" stroke-width="1.2" />
<line x1="766.5" y1="553.0" x2="766.5" y2="592.0" stroke="#dddddd" stroke-width="1.2" />
<line x1="801.6" y1="553.0" x2="801.6" y2="592.0" stroke="#dddddd" stroke-width="1.2" />
<line x1="710.6" y1="558.6" x2="766.5" y2="558.6" stroke="#dddddd" stroke-width="1.1" />
<line x1="710.6" y1="563.4" x2="766.5" y2="563.4" stroke="#dddddd" stroke-width="1.1" />
<line x1="710.6" y1="567.6" x2="766.5" y2="567.6" stroke="#dddddd" stroke-width="1.1" />
<line x1="710.6" y1="572.5" x2="766.5" y2="572.5" stroke="#dddddd" stroke-width="1.1" />
<line x1="710.6" y1="577.7" x2="766.5" y2="577.7" stroke="#dddddd" stroke-width="1.1" />
<line x1="710.6" y1="582.3" x2="766.5" y2="582.3" stroke="#dddddd" stroke-width="1.1" />
<line x1="710.6" y1="587.2" x2="766.5" y2="587.2" stroke="#dddddd" stroke-width="1.1" />
<line x1="717.4" y1="553.0" x2="717.4" y2="572.5" stroke="#dddddd" stroke-width="1.1" />
<line x1="724.6" y1="553.0" x2="724.6" y2="572.5" stroke="#dddddd" stroke-width="1.1" />
<line x1="735.5" y1="553.0" x2="735.5" y2="572.5" stroke="#dddddd" stroke-width="1.1" />
<line x1="746.5" y1="553.0" x2="746.5" y2="572.5" stroke="#dddddd" stroke-width="1.1" />
<line x1="755.5" y1="553.0" x2="755.5" y2="572.5" stroke="#dddddd" stroke-width="1.1" />
<line x1="718.7" y1="572.5" x2="718.7" y2="592.0" stroke="#dddddd" stroke-width="1.1" />
<line x1="727.4" y1="572.5" x2="727.4" y2="592.0" stroke="#dddddd" stroke-width="1.1" />
<line x1="738.7" y1="572.5" x2="738.7" y2="592.0" stroke="#dddddd" stroke-width="1.1" />
<line x1="746.5" y1="572.5" x2="746.5" y2="592.0" stroke="#dddddd" stroke-width="1.1" />
<line x1="755.5" y1="572.5" x2="755.5" y2="592.0" stroke="#dddddd" stroke-width="1.1" />
<line x1="766.5" y1="572.5" x2="801.6" y2="572.5" stroke="#dddddd" stroke-width="1.1" />
<line x1="766.5" y1="579.1" x2="801.6" y2="579.1" stroke="#dddddd" stroke-width="1.1" />
<line x1="766.5" y1="586.4" x2="801.6" y2="586.4" stroke="#dddddd" stroke-width="1.1" />
<line x1="770.5" y1="579.1" x2="770.5" y2="586.4" stroke="#dddddd" stroke-width="1.0" />
<line x1="775.1" y1="579.1" x2="775.1" y2="586.4" stroke="#dddddd" stroke-width="1.0" />
<line x1="780.1" y1="579.1" x2="780.1" y2="586.4" stroke="#dddddd" stroke-width="1.0" />
<line x1="784.2" y1="572.5" x2="784.2" y2="586.4" stroke="#dddddd" stroke-width="1.0" />
<line x1="793.3" y1="572.5" x2="793.3" y2="586.4" stroke="#dddddd" stroke-width="1.0" />
<line x1="801.6" y1="565.5" x2="836.5" y2="565.5" stroke="#dddddd" stroke-width="1.1" />
<line x1="801.6" y1="577.7" x2="836.5" y2="577.7" stroke="#dddddd" stroke-width="1.1" />
<line x1="801.6" y1="586.4" x2="836.5" y2="586.4" stroke="#dddddd" stroke-width="1.1" />
<path d="M711.5,568.6h2.6 M711.5,569.9h2.6 M711.5,571.2h2.6 M712.8,568.6v2.6 M714.7,568.6h2.6 M714.7,569.9h2.6 M714.7,571.2h2.6 M716.0,568.6v2.6 M714.7,568.6v2.6 M717.3,568.6v2.6" stroke="#18cc18" stroke-width="0.72" fill="none"/>
<path d="M719.0,568.6h2.6 M719.0,569.9h2.6 M719.0,571.2h2.6 M720.3,568.6v2.6 M719.0,568.6v2.6 M721.6,568.6v2.6 M722.0,568.6h2.6 M722.0,569.9h2.6 M722.0,571.2h2.6 M723.3,568.6v2.6" stroke="#18cc18" stroke-width="0.72" fill="none"/>
<path d="M726.0,568.6h2.6 M726.0,569.9h2.6 M726.0,571.2h2.6 M727.3,568.6v2.6 M726.0,568.6v2.6 M728.6,568.6v2.6 M729.4,568.6h2.6 M729.4,569.9h2.6 M729.4,571.2h2.6 M730.7,568.6v2.6" stroke="#18cc18" stroke-width="0.72" fill="none"/>
<path d="M736.5,568.6h2.6 M736.5,569.9h2.6 M736.5,571.2h2.6 M737.8,568.6v2.6 M739.7,568.6h2.6 M739.7,569.9h2.6 M741.0,568.6v2.6 M742.3,568.6v2.6" stroke="#18cc18" stroke-width="0.72" fill="none"/>
<path d="M747.5,568.6h2.6 M747.5,569.9h2.6 M747.5,571.2h2.6 M748.8,568.6v2.6 M750.7,568.6h2.6 M750.7,569.9h2.6 M750.7,571.2h2.6 M752.0,568.6v2.6" stroke="#18cc18" stroke-width="0.72" fill="none"/>
<path d="M757.0,568.6h2.6 M757.0,569.9h2.6 M757.0,571.2h2.6 M758.3,568.6v2.6 M760.2,568.6h2.6 M760.2,569.9h2.6 M760.2,571.2h2.6 M761.5,568.6v2.6" stroke="#18cc18" stroke-width="0.72" fill="none"/>
<path d="M711.5,573.6h2.6 M711.5,574.9h2.6 M711.5,576.2h2.6 M712.8,573.6v2.6 M714.7,573.6h2.6 M714.7,574.9h2.6 M716.0,573.6v2.6 M717.3,573.6v2.6" stroke="#18cc18" stroke-width="0.72" fill="none"/>
<path d="M739.5,573.6h2.6 M739.5,574.9h2.6 M739.5,576.2h2.6 M740.8,573.6v2.6 M742.5,573.6h2.6 M742.5,574.9h2.6 M743.8,573.6v2.6 M745.1,573.6v2.6" stroke="#18cc18" stroke-width="0.72" fill="none"/>
<path d="M711.5,583.3h2.6 M711.5,584.6h2.6 M712.8,583.3v2.6 M711.5,583.3v2.6 M714.7,583.3h2.6 M714.7,584.6h2.6 M716.0,583.3v2.6 M714.7,583.3v2.6 M717.3,583.3v2.6" stroke="#18cc18" stroke-width="0.72" fill="none"/>
<path d="M711.5,588.2h2.6 M711.5,589.5h2.6 M711.5,590.8h2.6 M712.8,588.2v2.6 M714.7,588.2h2.6 M714.7,589.5h2.6 M716.0,588.2v2.6 M714.7,588.2v2.6" stroke="#18cc18" stroke-width="0.72" fill="none"/>
<path d="M740.0,588.2h2.6 M740.0,589.5h2.6 M741.3,588.2v2.6 M742.6,588.2v2.6 M743.0,588.2h2.6 M743.0,589.5h2.6 M743.0,590.8h2.6 M744.3,588.2v2.6 M743.0,588.2v2.6 M745.6,588.2v2.6" stroke="#18cc18" stroke-width="0.72" fill="none"/>
<path d="M769.5,574.4h2.4 M769.5,575.6h2.4 M769.5,576.8h2.4 M770.7,574.4v2.4 M769.5,574.4v2.4 M771.9,574.4v2.4 M772.4,574.4h2.4 M772.4,575.6h2.4 M772.4,576.8h2.4 M773.6,574.4v2.4 M772.4,574.4v2.4 M774.8,574.4v2.4 M775.3,574.4h2.4 M775.3,575.6h2.4 M776.5,574.4v2.4 M775.3,574.4v2.4 M778.2,574.4h2.4 M778.2,575.6h2.4 M779.4,574.4v2.4 M778.2,574.4v2.4 M780.6,574.4v2.4" stroke="#10b010" stroke-width="0.72" fill="none"/>
<path d="M787.0,574.4h2.4 M787.0,575.6h2.4 M787.0,576.8h2.4 M788.2,574.4v2.4 M789.9,574.4h2.4 M789.9,575.6h2.4 M789.9,576.8h2.4 M791.1,574.4v2.4" stroke="#10b010" stroke-width="0.72" fill="none"/>
<path d="M795.5,574.4h2.4 M795.5,575.6h2.4 M795.5,576.8h2.4 M796.7,574.4v2.4 M798.4,574.4h2.4 M798.4,575.6h2.4 M798.4,576.8h2.4 M799.6,574.4v2.4" stroke="#10b010" stroke-width="0.72" fill="none"/>
<path d="M796.0,581.5h2.4 M796.0,582.7h2.4 M797.2,581.5v2.4 M796.0,581.5v2.4 M798.4,581.5v2.4" stroke="#10b010" stroke-width="0.72" fill="none"/>
<path d="M769.0,588.0h2.4 M769.0,589.2h2.4 M770.2,588.0v2.4 M771.4,588.0v2.4" stroke="#10b010" stroke-width="0.72" fill="none"/>
<path d="M779.0,588.0h2.4 M779.0,589.2h2.4 M780.2,588.0v2.4 M779.0,588.0v2.4" stroke="#10b010" stroke-width="0.72" fill="none"/>
<path d="M787.5,588.0h2.4 M787.5,589.2h2.4 M787.5,590.4h2.4 M788.7,588.0v2.4" stroke="#10b010" stroke-width="0.72" fill="none"/>
<path d="M797.0,588.0h2.4 M797.0,589.2h2.4 M797.0,590.4h2.4 M798.2,588.0v2.4" stroke="#10b010" stroke-width="0.72" fill="none"/>
</svg></body></html>
